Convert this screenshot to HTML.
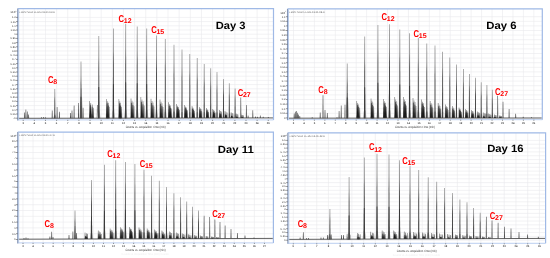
<!DOCTYPE html>
<html><head><meta charset="utf-8"><title>Chromatograms</title>
<style>html,body{margin:0;padding:0;background:#fff;width:550px;height:258px;overflow:hidden;font-family:"Liberation Sans",sans-serif}svg{display:block;will-change:transform;text-rendering:geometricPrecision}</style>
</head><body>
<svg width="550" height="258" viewBox="0 0 550 258" font-family='"Liberation Sans", sans-serif'><defs><linearGradient id="pg" x1="0" y1="0" x2="0" y2="1"><stop offset="0" stop-color="#9c9c9c"/><stop offset="0.25" stop-color="#888"/><stop offset="0.4" stop-color="#555"/><stop offset="1" stop-color="#3c3c3c"/></linearGradient></defs><rect width="550" height="258" fill="#fff"/><path d="M23.2 8.6V119.9M34.34 8.6V119.9M45.48 8.6V119.9M56.62 8.6V119.9M67.76 8.6V119.9M78.9 8.6V119.9M90.04 8.6V119.9M101.18 8.6V119.9M112.32 8.6V119.9M123.46 8.6V119.9M134.6 8.6V119.9M145.74 8.6V119.9M156.88 8.6V119.9M168.02 8.6V119.9M179.16 8.6V119.9M190.3 8.6V119.9M201.44 8.6V119.9M212.58 8.6V119.9M223.72 8.6V119.9M234.86 8.6V119.9M246 8.6V119.9M257.14 8.6V119.9M268.28 8.6V119.9M17.8 17.4H273.5M17.8 21.6H273.5M17.8 25.8H273.5M17.8 30H273.5M17.8 34.2H273.5M17.8 38.4H273.5M17.8 42.6H273.5M17.8 46.8H273.5M17.8 51H273.5M17.8 55.2H273.5M17.8 59.4H273.5M17.8 63.6H273.5M17.8 67.8H273.5M17.8 72H273.5M17.8 76.2H273.5M17.8 80.4H273.5M17.8 84.6H273.5M17.8 88.8H273.5M17.8 93H273.5M17.8 97.2H273.5M17.8 101.4H273.5M17.8 105.6H273.5M17.8 109.8H273.5M17.8 114H273.5M17.8 118.2H273.5" stroke="#e9eaec" stroke-width="0.6" fill="none"/><polygon points="88.99,118.18 89.26,101 89.71,101 89.99,118.18" fill="#4e4e4e"/><polygon points="90.33,118.18 90.6,103.06 91.05,103.06 91.33,118.18" fill="#4e4e4e"/><polygon points="91.67,118.18 91.95,104.44 92.4,104.44 92.67,118.18" fill="#4e4e4e"/><polygon points="93.01,118.18 93.29,107.87 93.74,107.87 94.01,118.18" fill="#4e4e4e"/><polygon points="89.74,118.18 90.24,104.78 90.74,104.78 91.24,118.18" fill="#111" fill-opacity="0.95"/><polygon points="91.4,118.18 91.85,106.84 92.35,106.84 92.8,118.18" fill="#111" fill-opacity="0.92"/><polygon points="88.89,118.18 90.69,113.03 94.11,118.18" fill="#222" fill-opacity="0.35"/><polygon points="105.92,118.16 106.2,99 106.64,99 106.92,118.16" fill="#4e4e4e"/><polygon points="106.84,118.16 107.12,101.3 107.56,101.3 107.84,118.16" fill="#4e4e4e"/><polygon points="107.76,118.16 108.04,102.83 108.48,102.83 108.76,118.16" fill="#4e4e4e"/><polygon points="108.68,118.16 108.96,106.66 109.41,106.66 109.68,118.16" fill="#4e4e4e"/><polygon points="106.36,118.16 106.86,103.22 107.36,103.22 107.86,118.16" fill="#111" fill-opacity="0.95"/><polygon points="107.51,118.16 107.96,105.51 108.46,105.51 108.91,118.16" fill="#111" fill-opacity="0.92"/><polygon points="105.82,118.16 107.25,112.41 109.78,118.16" fill="#222" fill-opacity="0.35"/><polygon points="118.42,118.14 118.7,99 119.14,99 119.42,118.14" fill="#4e4e4e"/><polygon points="119.34,118.14 119.62,101.3 120.06,101.3 120.34,118.14" fill="#4e4e4e"/><polygon points="120.26,118.14 120.54,102.83 120.98,102.83 121.26,118.14" fill="#4e4e4e"/><polygon points="121.18,118.14 121.46,106.66 121.91,106.66 122.18,118.14" fill="#4e4e4e"/><polygon points="118.86,118.14 119.36,103.21 119.86,103.21 120.36,118.14" fill="#111" fill-opacity="0.95"/><polygon points="120.01,118.14 120.46,105.51 120.96,105.51 121.41,118.14" fill="#111" fill-opacity="0.92"/><polygon points="118.32,118.14 119.75,112.4 122.28,118.14" fill="#222" fill-opacity="0.35"/><polygon points="130.5,118.12 130.78,98.4 131.23,98.4 131.5,118.12" fill="#4e4e4e"/><polygon points="131.5,118.12 131.78,100.77 132.23,100.77 132.5,118.12" fill="#4e4e4e"/><polygon points="132.5,118.12 132.77,102.34 133.22,102.34 133.5,118.12" fill="#4e4e4e"/><polygon points="133.5,118.12 133.77,106.29 134.22,106.29 134.5,118.12" fill="#4e4e4e"/><polygon points="131,118.12 131.5,102.74 132,102.74 132.5,118.12" fill="#111" fill-opacity="0.95"/><polygon points="132.25,118.12 132.7,105.1 133.2,105.1 133.65,118.12" fill="#111" fill-opacity="0.92"/><polygon points="130.41,118.12 131.9,112.2 134.59,118.12" fill="#222" fill-opacity="0.35"/><polygon points="140.39,118.1 140.66,97 141.11,97 141.39,118.1" fill="#4e4e4e"/><polygon points="141.46,118.1 141.74,99.53 142.19,99.53 142.46,118.1" fill="#4e4e4e"/><polygon points="142.54,118.1 142.81,101.22 143.26,101.22 143.54,118.1" fill="#4e4e4e"/><polygon points="143.61,118.1 143.88,105.44 144.33,105.44 144.61,118.1" fill="#4e4e4e"/><polygon points="140.94,118.1 141.44,101.64 141.94,101.64 142.44,118.1" fill="#111" fill-opacity="0.95"/><polygon points="142.28,118.1 142.73,104.18 143.23,104.18 143.68,118.1" fill="#111" fill-opacity="0.92"/><polygon points="140.29,118.1 141.86,111.77 144.71,118.1" fill="#222" fill-opacity="0.35"/><polygon points="150.5,118.09 150.78,98.7 151.23,98.7 151.5,118.09" fill="#4e4e4e"/><polygon points="151.5,118.09 151.78,101.03 152.23,101.03 152.5,118.09" fill="#4e4e4e"/><polygon points="152.5,118.09 152.77,102.58 153.22,102.58 153.5,118.09" fill="#4e4e4e"/><polygon points="153.5,118.09 153.77,106.46 154.22,106.46 154.5,118.09" fill="#4e4e4e"/><polygon points="151,118.09 151.5,102.97 152,102.97 152.5,118.09" fill="#111" fill-opacity="0.95"/><polygon points="152.25,118.09 152.7,105.29 153.2,105.29 153.65,118.09" fill="#111" fill-opacity="0.92"/><polygon points="150.41,118.09 151.9,112.27 154.59,118.09" fill="#222" fill-opacity="0.35"/><polygon points="159.5,118.08 159.78,99.6 160.23,99.6 160.5,118.08" fill="#4e4e4e"/><polygon points="160.5,118.08 160.78,101.82 161.23,101.82 161.5,118.08" fill="#4e4e4e"/><polygon points="161.5,118.08 161.77,103.3 162.22,103.3 162.5,118.08" fill="#4e4e4e"/><polygon points="162.5,118.08 162.77,106.99 163.22,106.99 163.5,118.08" fill="#4e4e4e"/><polygon points="160,118.08 160.5,103.66 161,103.66 161.5,118.08" fill="#111" fill-opacity="0.95"/><polygon points="161.25,118.08 161.7,105.88 162.2,105.88 162.65,118.08" fill="#111" fill-opacity="0.92"/><polygon points="159.41,118.08 160.9,112.53 163.59,118.08" fill="#222" fill-opacity="0.35"/><polygon points="168,118.06 168.28,102.3 168.73,102.3 169,118.06" fill="#4e4e4e"/><polygon points="169,118.06 169.28,104.19 169.73,104.19 170,118.06" fill="#4e4e4e"/><polygon points="170,118.06 170.27,105.45 170.72,105.45 171,118.06" fill="#4e4e4e"/><polygon points="171,118.06 171.27,108.6 171.72,108.6 172,118.06" fill="#4e4e4e"/><polygon points="168.5,118.06 169,105.77 169.5,105.77 170,118.06" fill="#111" fill-opacity="0.95"/><polygon points="169.75,118.06 170.2,107.66 170.7,107.66 171.15,118.06" fill="#111" fill-opacity="0.92"/><polygon points="167.91,118.06 169.4,113.33 172.09,118.06" fill="#222" fill-opacity="0.35"/><polygon points="176.12,118.05 176.4,104.1 176.84,104.1 177.12,118.05" fill="#4e4e4e"/><polygon points="177.04,118.05 177.31,105.77 177.76,105.77 178.04,118.05" fill="#4e4e4e"/><polygon points="177.96,118.05 178.24,106.89 178.69,106.89 178.96,118.05" fill="#4e4e4e"/><polygon points="178.88,118.05 179.16,109.68 179.6,109.68 179.88,118.05" fill="#4e4e4e"/><polygon points="176.56,118.05 177.06,107.17 177.56,107.17 178.06,118.05" fill="#111" fill-opacity="0.95"/><polygon points="177.71,118.05 178.16,108.84 178.66,108.84 179.11,118.05" fill="#111" fill-opacity="0.92"/><polygon points="176.02,118.05 177.45,113.86 179.98,118.05" fill="#222" fill-opacity="0.35"/><polygon points="184.12,118.04 184.4,105 184.84,105 185.12,118.04" fill="#4e4e4e"/><polygon points="185.04,118.04 185.31,106.56 185.76,106.56 186.04,118.04" fill="#4e4e4e"/><polygon points="185.96,118.04 186.24,107.61 186.69,107.61 186.96,118.04" fill="#4e4e4e"/><polygon points="186.88,118.04 187.16,110.21 187.6,110.21 187.88,118.04" fill="#4e4e4e"/><polygon points="184.56,118.04 185.06,107.87 185.56,107.87 186.06,118.04" fill="#111" fill-opacity="0.95"/><polygon points="185.71,118.04 186.16,109.43 186.66,109.43 187.11,118.04" fill="#111" fill-opacity="0.92"/><polygon points="184.02,118.04 185.45,114.13 187.98,118.04" fill="#222" fill-opacity="0.35"/><polygon points="191.54,118.03 191.81,106 192.26,106 192.54,118.03" fill="#4e4e4e"/><polygon points="192.38,118.03 192.65,107.44 193.1,107.44 193.38,118.03" fill="#4e4e4e"/><polygon points="193.22,118.03 193.5,108.41 193.95,108.41 194.22,118.03" fill="#4e4e4e"/><polygon points="194.07,118.03 194.34,110.81 194.79,110.81 195.07,118.03" fill="#4e4e4e"/><polygon points="191.92,118.03 192.42,108.65 192.92,108.65 193.42,118.03" fill="#111" fill-opacity="0.95"/><polygon points="192.98,118.03 193.43,110.09 193.93,110.09 194.38,118.03" fill="#111" fill-opacity="0.92"/><polygon points="191.44,118.03 192.79,114.42 195.17,118.03" fill="#222" fill-opacity="0.35"/><polygon points="198.84,118.01 199.11,106.9 199.56,106.9 199.84,118.01" fill="#4e4e4e"/><polygon points="199.68,118.01 199.95,108.23 200.4,108.23 200.68,118.01" fill="#4e4e4e"/><polygon points="200.52,118.01 200.8,109.12 201.25,109.12 201.52,118.01" fill="#4e4e4e"/><polygon points="201.37,118.01 201.64,111.35 202.09,111.35 202.37,118.01" fill="#4e4e4e"/><polygon points="199.22,118.01 199.72,109.35 200.22,109.35 200.72,118.01" fill="#111" fill-opacity="0.95"/><polygon points="200.28,118.01 200.73,110.68 201.23,110.68 201.68,118.01" fill="#111" fill-opacity="0.92"/><polygon points="198.74,118.01 200.09,114.68 202.47,118.01" fill="#222" fill-opacity="0.35"/><polygon points="205.85,118 206.12,108 206.57,108 206.85,118" fill="#4e4e4e"/><polygon points="206.62,118 206.89,109.2 207.34,109.2 207.62,118" fill="#4e4e4e"/><polygon points="207.38,118 207.66,110 208.11,110 208.38,118" fill="#4e4e4e"/><polygon points="208.15,118 208.43,112 208.88,112 209.15,118" fill="#4e4e4e"/><polygon points="206.17,118 206.67,110.2 207.17,110.2 207.67,118" fill="#111" fill-opacity="0.95"/><polygon points="207.15,118 207.59,111.4 208.09,111.4 208.54,118" fill="#111" fill-opacity="0.92"/><polygon points="205.75,118 207.04,115 209.25,118" fill="#222" fill-opacity="0.35"/><polygon points="212.35,117.99 212.62,109 213.07,109 213.35,117.99" fill="#4e4e4e"/><polygon points="213.12,117.99 213.39,110.08 213.84,110.08 214.12,117.99" fill="#4e4e4e"/><polygon points="213.88,117.99 214.16,110.8 214.61,110.8 214.88,117.99" fill="#4e4e4e"/><polygon points="214.65,117.99 214.93,112.6 215.38,112.6 215.65,117.99" fill="#4e4e4e"/><polygon points="212.67,117.99 213.17,111.86 213.67,111.86 214.17,117.99" fill="#111" fill-opacity="0.95"/><polygon points="213.65,117.99 214.09,112.8 214.59,112.8 215.04,117.99" fill="#111" fill-opacity="0.92"/><polygon points="212.25,117.99 213.54,115.3 215.75,117.99" fill="#222" fill-opacity="0.35"/><polygon points="218.85,117.98 219.12,110 219.57,110 219.85,117.98" fill="#4e4e4e"/><polygon points="220,117.98 220.28,110.96 220.72,110.96 221,117.98" fill="#4e4e4e"/><polygon points="221.15,117.98 221.43,111.6 221.88,111.6 222.15,117.98" fill="#4e4e4e"/><polygon points="219.17,117.98 219.67,113.33 220.17,113.33 220.67,117.98" fill="#111" fill-opacity="0.95"/><polygon points="220.15,117.98 220.59,114.04 221.09,114.04 221.54,117.98" fill="#111" fill-opacity="0.92"/><polygon points="218.75,117.98 220.04,115.59 222.25,117.98" fill="#222" fill-opacity="0.35"/><polygon points="224.47,117.97 224.74,111 225.19,111 225.47,117.97" fill="#4e4e4e"/><polygon points="225.5,117.97 225.78,111.84 226.22,111.84 226.5,117.97" fill="#4e4e4e"/><polygon points="226.53,117.97 226.81,112.39 227.26,112.39 227.53,117.97" fill="#4e4e4e"/><polygon points="224.73,117.97 225.23,114.59 225.73,114.59 226.23,117.97" fill="#111" fill-opacity="0.95"/><polygon points="225.61,117.97 226.06,115.11 226.56,115.11 227.01,117.97" fill="#111" fill-opacity="0.92"/><polygon points="224.37,117.97 225.59,115.88 227.63,117.97" fill="#222" fill-opacity="0.35"/><polygon points="230.58,117.96 230.86,112.2 231.31,112.2 231.58,117.96" fill="#4e4e4e"/><polygon points="231.5,117.96 231.78,112.89 232.22,112.89 232.5,117.96" fill="#4e4e4e"/><polygon points="232.42,117.96 232.7,113.35 233.15,113.35 233.42,117.96" fill="#4e4e4e"/><polygon points="230.79,117.96 231.29,115.85 231.79,115.85 232.29,117.96" fill="#111" fill-opacity="0.95"/><polygon points="231.58,117.96 232.03,116.17 232.53,116.17 232.98,117.96" fill="#111" fill-opacity="0.92"/><polygon points="230.48,117.96 231.63,116.24 233.52,117.96" fill="#222" fill-opacity="0.35"/><polygon points="235.58,117.96 235.86,113.5 236.31,113.5 236.58,117.96" fill="#4e4e4e"/><polygon points="236.5,117.96 236.78,114.03 237.22,114.03 237.5,117.96" fill="#4e4e4e"/><polygon points="237.42,117.96 237.7,114.39 238.15,114.39 238.42,117.96" fill="#4e4e4e"/><polygon points="235.79,117.96 236.29,116.74 236.79,116.74 237.29,117.96" fill="#111" fill-opacity="0.95"/><polygon points="236.58,117.96 237.03,116.93 237.53,116.93 237.98,117.96" fill="#111" fill-opacity="0.92"/><polygon points="235.48,117.96 236.63,116.62 238.52,117.96" fill="#222" fill-opacity="0.35"/><polygon points="240.88,117.95 241.16,114.7 241.61,114.7 241.88,117.95" fill="#4e4e4e"/><polygon points="241.8,117.95 242.08,115.09 242.53,115.09 242.8,117.95" fill="#4e4e4e"/><polygon points="242.72,117.95 243,115.35 243.45,115.35 243.72,117.95" fill="#4e4e4e"/><polygon points="241.09,117.95 241.59,117.06 242.09,117.06 242.59,117.95" fill="#111" fill-opacity="0.95"/><polygon points="241.88,117.95 242.33,117.2 242.83,117.2 243.28,117.95" fill="#111" fill-opacity="0.92"/><polygon points="240.78,117.95 241.93,116.97 243.82,117.95" fill="#222" fill-opacity="0.35"/><polygon points="24.05,118.29 24.3,112.5 24.9,112.5 25.15,118.29" fill="#555"/><polygon points="25.35,118.29 25.6,109.6 26.2,109.6 26.45,118.29" fill="#555"/><polygon points="26.75,118.29 27,111.5 27.6,111.5 27.85,118.29" fill="#555"/><polygon points="28.05,118.28 28.3,114.5 28.9,114.5 29.15,118.28" fill="#555"/><polygon points="51.65,118.25 51.9,110.5 52.5,110.5 52.75,118.25" fill="#555"/><polygon points="53,118.24 54.1,115.33 55.5,115.33 56.6,118.24" fill="#c4c4c4"/><polygon points="54.22,118.24 54.4,89.1 55.2,89.1 55.38,118.24" fill="url(#pg)"/><polygon points="54.05,118.24 54.35,114.75 55.25,114.75 55.55,118.24" fill="#3a3a3a" fill-opacity="0.5"/><polygon points="56.55,118.24 56.8,107 57.4,107 57.65,118.24" fill="#555"/><polygon points="58.85,118.23 59.1,111.7 59.7,111.7 59.95,118.23" fill="#555"/><polygon points="69.95,118.22 70.2,113 70.8,113 71.05,118.22" fill="#555"/><polygon points="71.45,118.22 71.7,110.5 72.3,110.5 72.55,118.22" fill="#555"/><polygon points="73.55,118.21 73.8,105.4 74.4,105.4 74.65,118.21" fill="#555"/><polygon points="77.95,118.21 78.2,103 78.8,103 79.05,118.21" fill="#555"/><polygon points="79.4,118.2 80.8,88.3 81.6,88.3 83,118.2" fill="#b8b8b8"/><polygon points="40.95,118.26 41.2,117.2 41.8,117.2 42.05,118.26" fill="#555"/><polygon points="43.05,118.26 43.3,117 43.9,117 44.15,118.26" fill="#555"/><polygon points="45.05,118.26 45.3,117.3 45.9,117.3 46.15,118.26" fill="#555"/><polygon points="79.2,118.2 80.3,112.53 81.7,112.53 82.8,118.2" fill="#c4c4c4"/><polygon points="80.42,118.2 80.6,61.5 81.4,61.5 81.58,118.2" fill="url(#pg)"/><polygon points="80.2,118.2 80.55,96.65 81.45,96.65 81.8,118.2" fill="#333" fill-opacity="0.75"/><polygon points="82.55,118.2 82.8,107.7 83.4,107.7 83.65,118.2" fill="#555"/><polygon points="96.75,118.18 97,105 97.6,105 97.85,118.18" fill="#555"/><polygon points="97,118.17 98.1,110.17 99.5,110.17 100.6,118.17" fill="#c4c4c4"/><polygon points="98.22,118.17 98.4,35.9 99.2,35.9 99.38,118.17" fill="url(#pg)"/><polygon points="98,118.17 98.35,86.91 99.25,86.91 99.6,118.17" fill="#333" fill-opacity="0.75"/><polygon points="111.6,118.15 112.7,110.15 114.1,110.15 115.2,118.15" fill="#c4c4c4"/><polygon points="112.83,118.15 113,28.5 113.8,28.5 113.98,118.15" fill="url(#pg)"/><polygon points="112.6,118.15 112.95,84.08 113.85,84.08 114.2,118.15" fill="#333" fill-opacity="0.75"/><polygon points="123.9,118.13 125,110.13 126.4,110.13 127.5,118.13" fill="#c4c4c4"/><polygon points="125.12,118.13 125.3,23.8 126.1,23.8 126.28,118.13" fill="url(#pg)"/><polygon points="124.9,118.13 125.25,82.29 126.15,82.29 126.5,118.13" fill="#333" fill-opacity="0.75"/><polygon points="135.4,118.11 136.5,110.11 137.9,110.11 139,118.11" fill="#c4c4c4"/><polygon points="136.62,118.11 136.8,26.6 137.6,26.6 137.77,118.11" fill="url(#pg)"/><polygon points="136.4,118.11 136.75,83.34 137.65,83.34 138,118.11" fill="#333" fill-opacity="0.75"/><polygon points="144.9,118.1 146,110.1 147.4,110.1 148.5,118.1" fill="#c4c4c4"/><polygon points="146.12,118.1 146.3,28.5 147.1,28.5 147.27,118.1" fill="url(#pg)"/><polygon points="145.9,118.1 146.25,84.05 147.15,84.05 147.5,118.1" fill="#333" fill-opacity="0.75"/><polygon points="154.7,118.08 155.8,110.08 157.2,110.08 158.3,118.08" fill="#c4c4c4"/><polygon points="155.93,118.08 156.1,35.5 156.9,35.5 157.07,118.08" fill="url(#pg)"/><polygon points="155.75,118.08 156.05,112.08 156.95,112.08 157.25,118.08" fill="#3a3a3a" fill-opacity="0.5"/><polygon points="163.5,118.07 164.6,110.16 166,110.16 167.1,118.07" fill="#c4c4c4"/><polygon points="164.73,118.07 164.9,39 165.7,39 165.88,118.07" fill="url(#pg)"/><polygon points="164.55,118.07 164.85,112.07 165.75,112.07 166.05,118.07" fill="#3a3a3a" fill-opacity="0.5"/><polygon points="172.2,118.06 173.3,110.73 174.7,110.73 175.8,118.06" fill="#c4c4c4"/><polygon points="173.43,118.06 173.6,44.8 174.4,44.8 174.57,118.06" fill="url(#pg)"/><polygon points="173.25,118.06 173.55,112.06 174.45,112.06 174.75,118.06" fill="#3a3a3a" fill-opacity="0.5"/><polygon points="181.43,118.04 181.6,49.4 182.4,49.4 182.57,118.04" fill="url(#pg)"/><polygon points="181.25,118.04 181.55,112.04 182.45,112.04 182.75,118.04" fill="#3a3a3a" fill-opacity="0.5"/><polygon points="189.23,118.03 189.4,54 190.2,54 190.38,118.03" fill="url(#pg)"/><polygon points="189.05,118.03 189.35,112.03 190.25,112.03 190.55,118.03" fill="#3a3a3a" fill-opacity="0.5"/><polygon points="196.62,118.02 196.8,58 197.6,58 197.77,118.02" fill="url(#pg)"/><polygon points="196.45,118.02 196.75,112.02 197.65,112.02 197.95,118.02" fill="#3a3a3a" fill-opacity="0.5"/><polygon points="203.62,118.01 203.8,63.9 204.6,63.9 204.77,118.01" fill="url(#pg)"/><polygon points="203.45,118.01 203.75,112.01 204.65,112.01 204.95,118.01" fill="#3a3a3a" fill-opacity="0.5"/><polygon points="210.12,118 210.3,68.2 211.1,68.2 211.27,118" fill="url(#pg)"/><polygon points="209.95,118 210.25,112.02 211.15,112.02 211.45,118" fill="#3a3a3a" fill-opacity="0.5"/><polygon points="216.43,117.99 216.6,72.1 217.4,72.1 217.57,117.99" fill="url(#pg)"/><polygon points="216.25,117.99 216.55,112.48 217.45,112.48 217.75,117.99" fill="#3a3a3a" fill-opacity="0.5"/><polygon points="222.93,117.98 223.1,79.1 223.9,79.1 224.07,117.98" fill="url(#pg)"/><polygon points="222.75,117.98 223.05,113.31 223.95,113.31 224.25,117.98" fill="#3a3a3a" fill-opacity="0.5"/><polygon points="228.73,117.97 228.9,83.3 229.7,83.3 229.88,117.97" fill="url(#pg)"/><polygon points="228.55,117.97 228.85,113.81 229.75,113.81 230.05,117.97" fill="#3a3a3a" fill-opacity="0.5"/><polygon points="234.53,117.96 234.7,88.4 235.5,88.4 235.67,117.96" fill="url(#pg)"/><polygon points="234.35,117.96 234.65,114.41 235.55,114.41 235.85,117.96" fill="#3a3a3a" fill-opacity="0.5"/><polygon points="240.25,117.95 240.5,97.6 241.1,97.6 241.35,117.95" fill="#555"/><polygon points="245.85,117.94 246.1,105.1 246.7,105.1 246.95,117.94" fill="#555"/><polygon points="252.25,117.93 252.5,110.3 253.1,110.3 253.35,117.93" fill="#555"/><polygon points="247.55,117.94 247.8,115.4 248.4,115.4 248.65,117.94" fill="#555"/><polygon points="254.95,117.93 255.2,116.5 255.8,116.5 256.05,117.93" fill="#555"/><polygon points="256.85,117.93 257.1,116.8 257.7,116.8 257.95,117.93" fill="#555"/><polygon points="259.75,117.92 260,115.4 260.6,115.4 260.85,117.92" fill="#555"/><polygon points="262.65,117.92 262.9,116.8 263.5,116.8 263.75,117.92" fill="#555"/><polygon points="267.75,117.91 268,116.9 268.6,116.9 268.85,117.91" fill="#555"/><path d="M18.3 118.3L273 117.9" stroke="#444" stroke-width="0.85"/><path d="M17.8 8.6H273.5V119.9" stroke="#9fb9e6" stroke-width="1.2" fill="none"/><path d="M17.8 119.9H273.5" stroke="#b3c8ee" stroke-width="0.9" fill="none"/><path d="M18.7 8.6V119.9" stroke="#bccfee" stroke-width="1.0" fill="none"/><path d="M17.7 8.6V120.4" stroke="#8797b6" stroke-width="1.1" fill="none"/><text x="15.7" y="18.3" font-size="2.7" text-anchor="end" fill="#333">1.2</text><text x="15.7" y="22.5" font-size="2.7" text-anchor="end" fill="#333">1.15</text><text x="15.7" y="26.7" font-size="2.7" text-anchor="end" fill="#333">1.1</text><text x="15.7" y="30.9" font-size="2.7" text-anchor="end" fill="#333">1.05</text><text x="15.7" y="35.1" font-size="2.7" text-anchor="end" fill="#333">1</text><text x="15.7" y="39.3" font-size="2.7" text-anchor="end" fill="#333">0.95</text><text x="15.7" y="43.5" font-size="2.7" text-anchor="end" fill="#333">0.9</text><text x="15.7" y="47.7" font-size="2.7" text-anchor="end" fill="#333">0.85</text><text x="15.7" y="51.9" font-size="2.7" text-anchor="end" fill="#333">0.8</text><text x="15.7" y="56.1" font-size="2.7" text-anchor="end" fill="#333">0.75</text><text x="15.7" y="60.3" font-size="2.7" text-anchor="end" fill="#333">0.7</text><text x="15.7" y="64.5" font-size="2.7" text-anchor="end" fill="#333">0.65</text><text x="15.7" y="68.7" font-size="2.7" text-anchor="end" fill="#333">0.6</text><text x="15.7" y="72.9" font-size="2.7" text-anchor="end" fill="#333">0.55</text><text x="15.7" y="77.1" font-size="2.7" text-anchor="end" fill="#333">0.5</text><text x="15.7" y="81.3" font-size="2.7" text-anchor="end" fill="#333">0.45</text><text x="15.7" y="85.5" font-size="2.7" text-anchor="end" fill="#333">0.4</text><text x="15.7" y="89.7" font-size="2.7" text-anchor="end" fill="#333">0.35</text><text x="15.7" y="93.9" font-size="2.7" text-anchor="end" fill="#333">0.3</text><text x="15.7" y="98.1" font-size="2.7" text-anchor="end" fill="#333">0.25</text><text x="15.7" y="102.3" font-size="2.7" text-anchor="end" fill="#333">0.2</text><text x="15.7" y="106.5" font-size="2.7" text-anchor="end" fill="#333">0.15</text><text x="15.7" y="110.7" font-size="2.7" text-anchor="end" fill="#333">0.1</text><text x="15.7" y="114.9" font-size="2.7" text-anchor="end" fill="#333">0.05</text><text x="15.7" y="119.1" font-size="2.7" text-anchor="end" fill="#333">-0</text><text x="23.2" y="123.9" font-size="2.7" font-weight="bold" text-anchor="middle" fill="#444">3</text><text x="34.34" y="123.9" font-size="2.7" font-weight="bold" text-anchor="middle" fill="#444">4</text><text x="45.48" y="123.9" font-size="2.7" font-weight="bold" text-anchor="middle" fill="#444">5</text><text x="56.62" y="123.9" font-size="2.7" font-weight="bold" text-anchor="middle" fill="#444">6</text><text x="67.76" y="123.9" font-size="2.7" font-weight="bold" text-anchor="middle" fill="#444">7</text><text x="78.9" y="123.9" font-size="2.7" font-weight="bold" text-anchor="middle" fill="#444">8</text><text x="90.04" y="123.9" font-size="2.7" font-weight="bold" text-anchor="middle" fill="#444">9</text><text x="101.18" y="123.9" font-size="2.7" font-weight="bold" text-anchor="middle" fill="#444">10</text><text x="112.32" y="123.9" font-size="2.7" font-weight="bold" text-anchor="middle" fill="#444">11</text><text x="123.46" y="123.9" font-size="2.7" font-weight="bold" text-anchor="middle" fill="#444">12</text><text x="134.6" y="123.9" font-size="2.7" font-weight="bold" text-anchor="middle" fill="#444">13</text><text x="145.74" y="123.9" font-size="2.7" font-weight="bold" text-anchor="middle" fill="#444">14</text><text x="156.88" y="123.9" font-size="2.7" font-weight="bold" text-anchor="middle" fill="#444">15</text><text x="168.02" y="123.9" font-size="2.7" font-weight="bold" text-anchor="middle" fill="#444">16</text><text x="179.16" y="123.9" font-size="2.7" font-weight="bold" text-anchor="middle" fill="#444">17</text><text x="190.3" y="123.9" font-size="2.7" font-weight="bold" text-anchor="middle" fill="#444">18</text><text x="201.44" y="123.9" font-size="2.7" font-weight="bold" text-anchor="middle" fill="#444">19</text><text x="212.58" y="123.9" font-size="2.7" font-weight="bold" text-anchor="middle" fill="#444">20</text><text x="223.72" y="123.9" font-size="2.7" font-weight="bold" text-anchor="middle" fill="#444">21</text><text x="234.86" y="123.9" font-size="2.7" font-weight="bold" text-anchor="middle" fill="#444">22</text><text x="246" y="123.9" font-size="2.7" font-weight="bold" text-anchor="middle" fill="#444">23</text><text x="257.14" y="123.9" font-size="2.7" font-weight="bold" text-anchor="middle" fill="#444">24</text><text x="268.28" y="123.9" font-size="2.7" font-weight="bold" text-anchor="middle" fill="#444">25</text><path d="M16 17.4H17.8M16 21.6H17.8M16 25.8H17.8M16 30H17.8M16 34.2H17.8M16 38.4H17.8M16 42.6H17.8M16 46.8H17.8M16 51H17.8M16 55.2H17.8M16 59.4H17.8M16 63.6H17.8M16 67.8H17.8M16 72H17.8M16 76.2H17.8M16 80.4H17.8M16 84.6H17.8M16 88.8H17.8M16 93H17.8M16 97.2H17.8M16 101.4H17.8M16 105.6H17.8M16 109.8H17.8M16 114H17.8M16 118.2H17.8M23.2 119.9V121M34.34 119.9V121M45.48 119.9V121M56.62 119.9V121M67.76 119.9V121M78.9 119.9V121M90.04 119.9V121M101.18 119.9V121M112.32 119.9V121M123.46 119.9V121M134.6 119.9V121M145.74 119.9V121M156.88 119.9V121M168.02 119.9V121M179.16 119.9V121M190.3 119.9V121M201.44 119.9V121M212.58 119.9V121M223.72 119.9V121M234.86 119.9V121M246 119.9V121M257.14 119.9V121M268.28 119.9V121" stroke="#555" stroke-width="0.6"/><text x="16.4" y="13.2" font-size="2.9" text-anchor="end" fill="#333">x10<tspan font-size="2.0" dy="-1.1">5</tspan></text><text x="19.1" y="12.9" font-size="2.7" fill="#666" textLength="36" lengthAdjust="spacingAndGlyphs">+ BPC Scan FL-RH-13-01-03-D</text><text x="125.65" y="128" font-size="3.1" fill="#333" textLength="40" lengthAdjust="spacingAndGlyphs">Counts vs. Acquisition Time (min)</text><text transform="translate(215.75 29.4) scale(1.052 1)" font-size="10.6" font-weight="bold" fill="#000">Day 3</text><text transform="translate(47.89 83.11) scale(0.77 1)" font-size="9.9" font-weight="bold" fill="#f00">C</text><text x="53.28" y="84.2" font-size="7" font-weight="bold" fill="#f00">8</text><text transform="translate(118.49 21.61) scale(0.77 1)" font-size="9.9" font-weight="bold" fill="#f00">C</text><text x="123.75" y="22.7" font-size="7" font-weight="bold" fill="#f00">12</text><text transform="translate(151.19 32.81) scale(0.77 1)" font-size="9.9" font-weight="bold" fill="#f00">C</text><text x="156.45" y="33.9" font-size="7" font-weight="bold" fill="#f00">15</text><text transform="translate(237.69 95.71) scale(0.77 1)" font-size="9.9" font-weight="bold" fill="#f00">C</text><text x="242.95" y="96.8" font-size="7" font-weight="bold" fill="#f00">27</text><path d="M293.5 8.9V119.7M303.95 8.9V119.7M314.4 8.9V119.7M324.85 8.9V119.7M335.3 8.9V119.7M345.75 8.9V119.7M356.2 8.9V119.7M366.65 8.9V119.7M377.1 8.9V119.7M387.55 8.9V119.7M398 8.9V119.7M408.45 8.9V119.7M418.9 8.9V119.7M429.35 8.9V119.7M439.8 8.9V119.7M450.25 8.9V119.7M460.7 8.9V119.7M471.15 8.9V119.7M481.6 8.9V119.7M492.05 8.9V119.7M502.5 8.9V119.7M512.95 8.9V119.7M523.4 8.9V119.7M533.85 8.9V119.7M287.6 16.7H542.3M287.6 21.3H542.3M287.6 25.9H542.3M287.6 30.5H542.3M287.6 35.1H542.3M287.6 39.7H542.3M287.6 44.3H542.3M287.6 48.9H542.3M287.6 53.5H542.3M287.6 58.1H542.3M287.6 62.7H542.3M287.6 67.3H542.3M287.6 71.9H542.3M287.6 76.5H542.3M287.6 81.1H542.3M287.6 85.7H542.3M287.6 90.3H542.3M287.6 94.9H542.3M287.6 99.5H542.3M287.6 104.1H542.3M287.6 108.7H542.3M287.6 113.3H542.3M287.6 117.9H542.3" stroke="#e9eaec" stroke-width="0.6" fill="none"/><polygon points="356.31,118.14 356.58,101 357.03,101 357.31,118.14" fill="#4e4e4e"/><polygon points="357.3,118.14 357.58,103.06 358.03,103.06 358.3,118.14" fill="#4e4e4e"/><polygon points="358.3,118.14 358.57,104.43 359.02,104.43 359.3,118.14" fill="#4e4e4e"/><polygon points="359.3,118.14 359.57,107.86 360.02,107.86 360.3,118.14" fill="#4e4e4e"/><polygon points="356.8,118.14 357.3,104.77 357.8,104.77 358.3,118.14" fill="#111" fill-opacity="0.95"/><polygon points="358.05,118.14 358.5,106.83 359,106.83 359.45,118.14" fill="#111" fill-opacity="0.92"/><polygon points="356.2,118.14 357.7,113 360.4,118.14" fill="#222" fill-opacity="0.35"/><polygon points="370.52,118.13 370.79,98.4 371.25,98.4 371.52,118.13" fill="#4e4e4e"/><polygon points="371.44,118.13 371.71,100.77 372.17,100.77 372.44,118.13" fill="#4e4e4e"/><polygon points="372.36,118.13 372.63,102.35 373.08,102.35 373.36,118.13" fill="#4e4e4e"/><polygon points="373.28,118.13 373.55,106.29 374,106.29 374.28,118.13" fill="#4e4e4e"/><polygon points="370.96,118.13 371.46,102.74 371.96,102.74 372.46,118.13" fill="#111" fill-opacity="0.95"/><polygon points="372.11,118.13 372.56,105.11 373.06,105.11 373.51,118.13" fill="#111" fill-opacity="0.92"/><polygon points="370.42,118.13 371.85,112.21 374.38,118.13" fill="#222" fill-opacity="0.35"/><polygon points="383,118.12 383.28,99 383.73,99 384,118.12" fill="#4e4e4e"/><polygon points="384,118.12 384.28,101.29 384.73,101.29 385,118.12" fill="#4e4e4e"/><polygon points="385,118.12 385.27,102.82 385.72,102.82 386,118.12" fill="#4e4e4e"/><polygon points="386,118.12 386.27,106.65 386.72,106.65 387,118.12" fill="#4e4e4e"/><polygon points="383.5,118.12 384,103.21 384.5,103.21 385,118.12" fill="#111" fill-opacity="0.95"/><polygon points="384.75,118.12 385.2,105.5 385.7,105.5 386.15,118.12" fill="#111" fill-opacity="0.92"/><polygon points="382.9,118.12 384.4,112.39 387.1,118.12" fill="#222" fill-opacity="0.35"/><polygon points="394.31,118.11 394.58,97 395.03,97 395.31,118.11" fill="#4e4e4e"/><polygon points="395.3,118.11 395.58,99.53 396.03,99.53 396.3,118.11" fill="#4e4e4e"/><polygon points="396.3,118.11 396.57,101.22 397.02,101.22 397.3,118.11" fill="#4e4e4e"/><polygon points="397.3,118.11 397.57,105.45 398.02,105.45 398.3,118.11" fill="#4e4e4e"/><polygon points="394.8,118.11 395.3,101.65 395.8,101.65 396.3,118.11" fill="#111" fill-opacity="0.95"/><polygon points="396.05,118.11 396.5,104.18 397,104.18 397.45,118.11" fill="#111" fill-opacity="0.92"/><polygon points="394.2,118.11 395.7,111.78 398.4,118.11" fill="#222" fill-opacity="0.35"/><polygon points="403,118.11 403.28,97 403.73,97 404,118.11" fill="#4e4e4e"/><polygon points="404,118.11 404.28,99.53 404.73,99.53 405,118.11" fill="#4e4e4e"/><polygon points="405,118.11 405.27,101.22 405.72,101.22 406,118.11" fill="#4e4e4e"/><polygon points="406,118.11 406.27,105.44 406.72,105.44 407,118.11" fill="#4e4e4e"/><polygon points="403.5,118.11 404,101.64 404.5,101.64 405,118.11" fill="#111" fill-opacity="0.95"/><polygon points="404.75,118.11 405.2,104.18 405.7,104.18 406.15,118.11" fill="#111" fill-opacity="0.92"/><polygon points="402.9,118.11 404.4,111.78 407.1,118.11" fill="#222" fill-opacity="0.35"/><polygon points="412.5,118.1 412.78,98 413.23,98 413.5,118.1" fill="#4e4e4e"/><polygon points="413.5,118.1 413.78,100.41 414.23,100.41 414.5,118.1" fill="#4e4e4e"/><polygon points="414.5,118.1 414.77,102.02 415.22,102.02 415.5,118.1" fill="#4e4e4e"/><polygon points="415.5,118.1 415.77,106.04 416.22,106.04 416.5,118.1" fill="#4e4e4e"/><polygon points="413,118.1 413.5,102.42 414,102.42 414.5,118.1" fill="#111" fill-opacity="0.95"/><polygon points="414.25,118.1 414.7,104.83 415.2,104.83 415.65,118.1" fill="#111" fill-opacity="0.92"/><polygon points="412.4,118.1 413.9,112.07 416.6,118.1" fill="#222" fill-opacity="0.35"/><polygon points="421,118.09 421.28,99.5 421.73,99.5 422,118.09" fill="#4e4e4e"/><polygon points="422,118.09 422.28,101.73 422.73,101.73 423,118.09" fill="#4e4e4e"/><polygon points="423,118.09 423.27,103.22 423.72,103.22 424,118.09" fill="#4e4e4e"/><polygon points="424,118.09 424.27,106.94 424.72,106.94 425,118.09" fill="#4e4e4e"/><polygon points="421.5,118.09 422,103.59 422.5,103.59 423,118.09" fill="#111" fill-opacity="0.95"/><polygon points="422.75,118.09 423.2,105.82 423.7,105.82 424.15,118.09" fill="#111" fill-opacity="0.92"/><polygon points="420.9,118.09 422.4,112.52 425.1,118.09" fill="#222" fill-opacity="0.35"/><polygon points="429.62,118.09 429.89,101 430.35,101 430.62,118.09" fill="#4e4e4e"/><polygon points="430.54,118.09 430.81,103.05 431.27,103.05 431.54,118.09" fill="#4e4e4e"/><polygon points="431.46,118.09 431.73,104.42 432.19,104.42 432.46,118.09" fill="#4e4e4e"/><polygon points="432.38,118.09 432.65,107.83 433.11,107.83 433.38,118.09" fill="#4e4e4e"/><polygon points="430.06,118.09 430.56,104.76 431.06,104.76 431.56,118.09" fill="#111" fill-opacity="0.95"/><polygon points="431.21,118.09 431.66,106.81 432.16,106.81 432.61,118.09" fill="#111" fill-opacity="0.92"/><polygon points="429.52,118.09 430.95,112.96 433.48,118.09" fill="#222" fill-opacity="0.35"/><polygon points="437.62,118.08 437.89,103 438.35,103 438.62,118.08" fill="#4e4e4e"/><polygon points="438.54,118.08 438.81,104.81 439.27,104.81 439.54,118.08" fill="#4e4e4e"/><polygon points="439.46,118.08 439.73,106.02 440.19,106.02 440.46,118.08" fill="#4e4e4e"/><polygon points="440.38,118.08 440.65,109.03 441.11,109.03 441.38,118.08" fill="#4e4e4e"/><polygon points="438.06,118.08 438.56,106.32 439.06,106.32 439.56,118.08" fill="#111" fill-opacity="0.95"/><polygon points="439.21,118.08 439.66,108.13 440.16,108.13 440.61,118.08" fill="#111" fill-opacity="0.92"/><polygon points="437.52,118.08 438.95,113.56 441.48,118.08" fill="#222" fill-opacity="0.35"/><polygon points="444.82,118.08 445.09,104.5 445.55,104.5 445.82,118.08" fill="#4e4e4e"/><polygon points="445.74,118.08 446.01,106.13 446.47,106.13 446.74,118.08" fill="#4e4e4e"/><polygon points="446.66,118.08 446.93,107.22 447.38,107.22 447.66,118.08" fill="#4e4e4e"/><polygon points="447.58,118.08 447.85,109.93 448.31,109.93 448.58,118.08" fill="#4e4e4e"/><polygon points="445.26,118.08 445.76,107.49 446.26,107.49 446.76,118.08" fill="#111" fill-opacity="0.95"/><polygon points="446.41,118.08 446.86,109.12 447.36,109.12 447.81,118.08" fill="#111" fill-opacity="0.92"/><polygon points="444.72,118.08 446.15,114 448.68,118.08" fill="#222" fill-opacity="0.35"/><polygon points="451.74,118.07 452.01,106 452.46,106 452.74,118.07" fill="#4e4e4e"/><polygon points="452.58,118.07 452.85,107.45 453.3,107.45 453.58,118.07" fill="#4e4e4e"/><polygon points="453.42,118.07 453.7,108.41 454.15,108.41 454.42,118.07" fill="#4e4e4e"/><polygon points="454.26,118.07 454.54,110.83 454.99,110.83 455.26,118.07" fill="#4e4e4e"/><polygon points="452.12,118.07 452.62,108.66 453.12,108.66 453.62,118.07" fill="#111" fill-opacity="0.95"/><polygon points="453.18,118.07 453.63,110.1 454.13,110.1 454.58,118.07" fill="#111" fill-opacity="0.92"/><polygon points="451.63,118.07 452.99,114.45 455.37,118.07" fill="#222" fill-opacity="0.35"/><polygon points="458.54,118.06 458.81,107.5 459.26,107.5 459.54,118.06" fill="#4e4e4e"/><polygon points="459.38,118.06 459.65,108.77 460.1,108.77 460.38,118.06" fill="#4e4e4e"/><polygon points="460.22,118.06 460.5,109.61 460.95,109.61 461.22,118.06" fill="#4e4e4e"/><polygon points="461.06,118.06 461.34,111.73 461.79,111.73 462.06,118.06" fill="#4e4e4e"/><polygon points="458.92,118.06 459.42,109.82 459.92,109.82 460.42,118.06" fill="#111" fill-opacity="0.95"/><polygon points="459.98,118.06 460.43,111.09 460.93,111.09 461.38,118.06" fill="#111" fill-opacity="0.92"/><polygon points="458.44,118.06 459.79,114.9 462.17,118.06" fill="#222" fill-opacity="0.35"/><polygon points="465.05,118.06 465.32,109 465.78,109 466.05,118.06" fill="#4e4e4e"/><polygon points="465.82,118.06 466.09,110.09 466.54,110.09 466.82,118.06" fill="#4e4e4e"/><polygon points="466.58,118.06 466.86,110.81 467.31,110.81 467.58,118.06" fill="#4e4e4e"/><polygon points="467.35,118.06 467.62,112.62 468.08,112.62 468.35,118.06" fill="#4e4e4e"/><polygon points="465.38,118.06 465.88,111.82 466.38,111.82 466.88,118.06" fill="#111" fill-opacity="0.95"/><polygon points="466.35,118.06 466.8,112.78 467.3,112.78 467.75,118.06" fill="#111" fill-opacity="0.92"/><polygon points="464.95,118.06 466.24,115.34 468.45,118.06" fill="#222" fill-opacity="0.35"/><polygon points="471.05,118.05 471.32,110 471.78,110 472.05,118.05" fill="#4e4e4e"/><polygon points="471.82,118.05 472.09,110.97 472.54,110.97 472.82,118.05" fill="#4e4e4e"/><polygon points="472.58,118.05 472.86,111.61 473.31,111.61 473.58,118.05" fill="#4e4e4e"/><polygon points="473.35,118.05 473.62,113.22 474.08,113.22 474.35,118.05" fill="#4e4e4e"/><polygon points="471.38,118.05 471.88,113.3 472.38,113.3 472.88,118.05" fill="#111" fill-opacity="0.95"/><polygon points="472.35,118.05 472.8,114.03 473.3,114.03 473.75,118.05" fill="#111" fill-opacity="0.92"/><polygon points="470.95,118.05 472.24,115.64 474.45,118.05" fill="#222" fill-opacity="0.35"/><polygon points="476.85,118.05 477.12,111.5 477.58,111.5 477.85,118.05" fill="#4e4e4e"/><polygon points="478,118.05 478.27,112.29 478.73,112.29 479,118.05" fill="#4e4e4e"/><polygon points="479.15,118.05 479.43,112.81 479.88,112.81 480.15,118.05" fill="#4e4e4e"/><polygon points="477.18,118.05 477.68,115.14 478.18,115.14 478.68,118.05" fill="#111" fill-opacity="0.95"/><polygon points="478.15,118.05 478.6,115.59 479.1,115.59 479.55,118.05" fill="#111" fill-opacity="0.92"/><polygon points="476.75,118.05 478.04,116.09 480.25,118.05" fill="#222" fill-opacity="0.35"/><polygon points="482.66,118.05 482.94,112.5 483.39,112.5 483.66,118.05" fill="#4e4e4e"/><polygon points="483.7,118.05 483.97,113.17 484.43,113.17 484.7,118.05" fill="#4e4e4e"/><polygon points="484.73,118.05 485.01,113.61 485.46,113.61 485.73,118.05" fill="#4e4e4e"/><polygon points="482.93,118.05 483.43,116.13 483.93,116.13 484.43,118.05" fill="#111" fill-opacity="0.95"/><polygon points="483.81,118.05 484.26,116.42 484.76,116.42 485.21,118.05" fill="#111" fill-opacity="0.92"/><polygon points="482.56,118.05 483.79,116.38 485.83,118.05" fill="#222" fill-opacity="0.35"/><polygon points="488.26,118.04 488.54,113.5 488.99,113.5 489.26,118.04" fill="#4e4e4e"/><polygon points="489.3,118.04 489.57,114.04 490.03,114.04 490.3,118.04" fill="#4e4e4e"/><polygon points="490.33,118.04 490.61,114.41 491.06,114.41 491.33,118.04" fill="#4e4e4e"/><polygon points="488.53,118.04 489.03,116.8 489.53,116.8 490.03,118.04" fill="#111" fill-opacity="0.95"/><polygon points="489.41,118.04 489.86,116.99 490.36,116.99 490.81,118.04" fill="#111" fill-opacity="0.92"/><polygon points="488.16,118.04 489.39,116.68 491.44,118.04" fill="#222" fill-opacity="0.35"/><polygon points="493.78,118.04 494.05,114.5 494.5,114.5 494.78,118.04" fill="#4e4e4e"/><polygon points="494.7,118.04 494.97,114.92 495.43,114.92 495.7,118.04" fill="#4e4e4e"/><polygon points="495.62,118.04 495.89,115.21 496.34,115.21 496.62,118.04" fill="#4e4e4e"/><polygon points="493.99,118.04 494.49,117.07 494.99,117.07 495.49,118.04" fill="#111" fill-opacity="0.95"/><polygon points="494.78,118.04 495.23,117.22 495.73,117.22 496.18,118.04" fill="#111" fill-opacity="0.92"/><polygon points="493.68,118.04 494.83,116.98 496.72,118.04" fill="#222" fill-opacity="0.35"/><polygon points="499.08,118.03 499.35,115.5 499.81,115.5 500.08,118.03" fill="#4e4e4e"/><polygon points="500,118.03 500.27,115.8 500.73,115.8 501,118.03" fill="#4e4e4e"/><polygon points="500.92,118.03 501.19,116.01 501.64,116.01 501.92,118.03" fill="#4e4e4e"/><polygon points="499.29,118.03 499.79,117.34 500.29,117.34 500.79,118.03" fill="#111" fill-opacity="0.95"/><polygon points="500.08,118.03 500.53,117.45 501.03,117.45 501.48,118.03" fill="#111" fill-opacity="0.92"/><polygon points="498.98,118.03 500.13,117.27 502.02,118.03" fill="#222" fill-opacity="0.35"/><polygon points="293.65,118.19 293.9,113.5 294.5,113.5 294.75,118.19" fill="#555"/><polygon points="294.75,118.19 295,111.8 295.6,111.8 295.85,118.19" fill="#555"/><polygon points="295.75,118.19 296,110.9 296.6,110.9 296.85,118.19" fill="#555"/><polygon points="296.85,118.19 297.1,112.8 297.7,112.8 297.95,118.19" fill="#555"/><polygon points="298.05,118.19 298.3,114.5 298.9,114.5 299.15,118.19" fill="#555"/><polygon points="299.25,118.19 299.5,116 300.1,116 300.35,118.19" fill="#555"/><polygon points="311.65,118.18 311.9,117.2 312.5,117.2 312.75,118.18" fill="#555"/><polygon points="336.45,118.16 336.7,117.2 337.3,117.2 337.55,118.16" fill="#555"/><polygon points="319.65,118.17 319.9,112.5 320.5,112.5 320.75,118.17" fill="#555"/><polygon points="322.45,118.17 322.7,95.3 323.3,95.3 323.55,118.17" fill="#555"/><polygon points="324.45,118.17 324.7,110 325.3,110 325.55,118.17" fill="#555"/><polygon points="326.75,118.17 327,113 327.6,113 327.85,118.17" fill="#555"/><polygon points="338.55,118.16 338.8,111 339.4,111 339.65,118.16" fill="#555"/><polygon points="340.65,118.16 340.9,105.6 341.5,105.6 341.75,118.16" fill="#555"/><polygon points="344.45,118.15 344.7,104.8 345.3,104.8 345.55,118.15" fill="#555"/><polygon points="345.6,118.15 347,93 347.8,93 349.2,118.15" fill="#b8b8b8"/><polygon points="345.4,118.15 346.5,112.69 347.9,112.69 349,118.15" fill="#c4c4c4"/><polygon points="346.62,118.15 346.8,63.5 347.6,63.5 347.77,118.15" fill="url(#pg)"/><polygon points="346.4,118.15 346.75,97.38 347.65,97.38 348,118.15" fill="#333" fill-opacity="0.75"/><polygon points="362.9,118.14 364,110.14 365.4,110.14 366.5,118.14" fill="#c4c4c4"/><polygon points="364.12,118.14 364.3,36.6 365.1,36.6 365.27,118.14" fill="url(#pg)"/><polygon points="363.9,118.14 364.25,87.15 365.15,87.15 365.5,118.14" fill="#333" fill-opacity="0.75"/><polygon points="376.1,118.13 377.2,110.13 378.6,110.13 379.7,118.13" fill="#c4c4c4"/><polygon points="377.32,118.13 377.5,25 378.3,25 378.47,118.13" fill="url(#pg)"/><polygon points="377.1,118.13 377.45,82.74 378.35,82.74 378.7,118.13" fill="#333" fill-opacity="0.75"/><polygon points="387.7,118.12 388.8,110.12 390.2,110.12 391.3,118.12" fill="#c4c4c4"/><polygon points="388.93,118.12 389.1,24.3 389.9,24.3 390.07,118.12" fill="url(#pg)"/><polygon points="388.7,118.12 389.05,82.47 389.95,82.47 390.3,118.12" fill="#333" fill-opacity="0.75"/><polygon points="398,118.11 399.1,110.11 400.5,110.11 401.6,118.11" fill="#c4c4c4"/><polygon points="399.23,118.11 399.4,29.4 400.2,29.4 400.38,118.11" fill="url(#pg)"/><polygon points="399,118.11 399.35,84.4 400.25,84.4 400.6,118.11" fill="#333" fill-opacity="0.75"/><polygon points="407.8,118.1 408.9,110.1 410.3,110.1 411.4,118.1" fill="#c4c4c4"/><polygon points="409.03,118.1 409.2,33.3 410,33.3 410.18,118.1" fill="url(#pg)"/><polygon points="408.8,118.1 409.15,85.88 410.05,85.88 410.4,118.1" fill="#333" fill-opacity="0.75"/><polygon points="416.5,118.1 417.6,110.1 419,110.1 420.1,118.1" fill="#c4c4c4"/><polygon points="417.73,118.1 417.9,37.9 418.7,37.9 418.88,118.1" fill="url(#pg)"/><polygon points="417.55,118.1 417.85,112.1 418.75,112.1 419.05,118.1" fill="#3a3a3a" fill-opacity="0.5"/><polygon points="425,118.09 426.1,110.63 427.5,110.63 428.6,118.09" fill="#c4c4c4"/><polygon points="426.23,118.09 426.4,43.5 427.2,43.5 427.38,118.09" fill="url(#pg)"/><polygon points="426.05,118.09 426.35,112.09 427.25,112.09 427.55,118.09" fill="#3a3a3a" fill-opacity="0.5"/><polygon points="433.2,118.08 434.3,110.84 435.7,110.84 436.8,118.08" fill="#c4c4c4"/><polygon points="434.43,118.08 434.6,45.6 435.4,45.6 435.57,118.08" fill="url(#pg)"/><polygon points="434.25,118.08 434.55,112.08 435.45,112.08 435.75,118.08" fill="#3a3a3a" fill-opacity="0.5"/><polygon points="442.03,118.08 442.2,51.7 443,51.7 443.18,118.08" fill="url(#pg)"/><polygon points="441.85,118.08 442.15,112.08 443.05,112.08 443.35,118.08" fill="#3a3a3a" fill-opacity="0.5"/><polygon points="449.23,118.07 449.4,57.6 450.2,57.6 450.38,118.07" fill="url(#pg)"/><polygon points="449.05,118.07 449.35,112.07 450.25,112.07 450.55,118.07" fill="#3a3a3a" fill-opacity="0.5"/><polygon points="455.93,118.07 456.1,64.4 456.9,64.4 457.07,118.07" fill="url(#pg)"/><polygon points="455.75,118.07 456.05,112.07 456.95,112.07 457.25,118.07" fill="#3a3a3a" fill-opacity="0.5"/><polygon points="462.82,118.06 463,69 463.8,69 463.97,118.06" fill="url(#pg)"/><polygon points="462.65,118.06 462.95,112.17 463.85,112.17 464.15,118.06" fill="#3a3a3a" fill-opacity="0.5"/><polygon points="468.82,118.06 469,74 469.8,74 469.97,118.06" fill="url(#pg)"/><polygon points="468.65,118.06 468.95,112.77 469.85,112.77 470.15,118.06" fill="#3a3a3a" fill-opacity="0.5"/><polygon points="474.93,118.05 475.1,77.8 475.9,77.8 476.07,118.05" fill="url(#pg)"/><polygon points="474.75,118.05 475.05,113.22 475.95,113.22 476.25,118.05" fill="#3a3a3a" fill-opacity="0.5"/><polygon points="480.62,118.05 480.8,82.2 481.6,82.2 481.77,118.05" fill="url(#pg)"/><polygon points="480.45,118.05 480.75,113.75 481.65,113.75 481.95,118.05" fill="#3a3a3a" fill-opacity="0.5"/><polygon points="486.32,118.04 486.5,85.1 487.3,85.1 487.47,118.04" fill="url(#pg)"/><polygon points="486.15,118.04 486.45,114.09 487.35,114.09 487.65,118.04" fill="#3a3a3a" fill-opacity="0.5"/><polygon points="491.73,118.04 491.9,89.7 492.7,89.7 492.88,118.04" fill="url(#pg)"/><polygon points="491.55,118.04 491.85,114.64 492.75,114.64 493.05,118.04" fill="#3a3a3a" fill-opacity="0.5"/><polygon points="497.15,118.04 497.4,95.7 498,95.7 498.25,118.04" fill="#555"/><polygon points="502.45,118.03 502.7,101.8 503.3,101.8 503.55,118.03" fill="#555"/><polygon points="508.55,118.03 508.8,109 509.4,109 509.65,118.03" fill="#555"/><polygon points="515.15,118.02 515.4,113.8 516,113.8 516.25,118.02" fill="#555"/><polygon points="522.65,118.01 522.9,116.8 523.5,116.8 523.75,118.01" fill="#555"/><polygon points="530.95,118.01 531.2,117.2 531.8,117.2 532.05,118.01" fill="#555"/><path d="M288.1 118.2L541.8 118" stroke="#444" stroke-width="0.85"/><path d="M287.6 8.9H542.3V119.7" stroke="#9fb9e6" stroke-width="1.2" fill="none"/><path d="M287.6 119.7H542.3" stroke="#b3c8ee" stroke-width="0.9" fill="none"/><path d="M288.5 8.9V119.7" stroke="#bccfee" stroke-width="1.0" fill="none"/><path d="M287.5 8.9V120.2" stroke="#8797b6" stroke-width="1.1" fill="none"/><text x="285.5" y="17.6" font-size="2.7" text-anchor="end" fill="#333">1.1</text><text x="285.5" y="22.2" font-size="2.7" text-anchor="end" fill="#333">1.05</text><text x="285.5" y="26.8" font-size="2.7" text-anchor="end" fill="#333">1</text><text x="285.5" y="31.4" font-size="2.7" text-anchor="end" fill="#333">0.95</text><text x="285.5" y="36" font-size="2.7" text-anchor="end" fill="#333">0.9</text><text x="285.5" y="40.6" font-size="2.7" text-anchor="end" fill="#333">0.85</text><text x="285.5" y="45.2" font-size="2.7" text-anchor="end" fill="#333">0.8</text><text x="285.5" y="49.8" font-size="2.7" text-anchor="end" fill="#333">0.75</text><text x="285.5" y="54.4" font-size="2.7" text-anchor="end" fill="#333">0.7</text><text x="285.5" y="59" font-size="2.7" text-anchor="end" fill="#333">0.65</text><text x="285.5" y="63.6" font-size="2.7" text-anchor="end" fill="#333">0.6</text><text x="285.5" y="68.2" font-size="2.7" text-anchor="end" fill="#333">0.55</text><text x="285.5" y="72.8" font-size="2.7" text-anchor="end" fill="#333">0.5</text><text x="285.5" y="77.4" font-size="2.7" text-anchor="end" fill="#333">0.45</text><text x="285.5" y="82" font-size="2.7" text-anchor="end" fill="#333">0.4</text><text x="285.5" y="86.6" font-size="2.7" text-anchor="end" fill="#333">0.35</text><text x="285.5" y="91.2" font-size="2.7" text-anchor="end" fill="#333">0.3</text><text x="285.5" y="95.8" font-size="2.7" text-anchor="end" fill="#333">0.25</text><text x="285.5" y="100.4" font-size="2.7" text-anchor="end" fill="#333">0.2</text><text x="285.5" y="105" font-size="2.7" text-anchor="end" fill="#333">0.15</text><text x="285.5" y="109.6" font-size="2.7" text-anchor="end" fill="#333">0.1</text><text x="285.5" y="114.2" font-size="2.7" text-anchor="end" fill="#333">0.05</text><text x="285.5" y="118.8" font-size="2.7" text-anchor="end" fill="#333">0</text><text x="293.5" y="123.7" font-size="2.7" font-weight="bold" text-anchor="middle" fill="#444">3</text><text x="303.95" y="123.7" font-size="2.7" font-weight="bold" text-anchor="middle" fill="#444">4</text><text x="314.4" y="123.7" font-size="2.7" font-weight="bold" text-anchor="middle" fill="#444">5</text><text x="324.85" y="123.7" font-size="2.7" font-weight="bold" text-anchor="middle" fill="#444">6</text><text x="335.3" y="123.7" font-size="2.7" font-weight="bold" text-anchor="middle" fill="#444">7</text><text x="345.75" y="123.7" font-size="2.7" font-weight="bold" text-anchor="middle" fill="#444">8</text><text x="356.2" y="123.7" font-size="2.7" font-weight="bold" text-anchor="middle" fill="#444">9</text><text x="366.65" y="123.7" font-size="2.7" font-weight="bold" text-anchor="middle" fill="#444">10</text><text x="377.1" y="123.7" font-size="2.7" font-weight="bold" text-anchor="middle" fill="#444">11</text><text x="387.55" y="123.7" font-size="2.7" font-weight="bold" text-anchor="middle" fill="#444">12</text><text x="398" y="123.7" font-size="2.7" font-weight="bold" text-anchor="middle" fill="#444">13</text><text x="408.45" y="123.7" font-size="2.7" font-weight="bold" text-anchor="middle" fill="#444">14</text><text x="418.9" y="123.7" font-size="2.7" font-weight="bold" text-anchor="middle" fill="#444">15</text><text x="429.35" y="123.7" font-size="2.7" font-weight="bold" text-anchor="middle" fill="#444">16</text><text x="439.8" y="123.7" font-size="2.7" font-weight="bold" text-anchor="middle" fill="#444">17</text><text x="450.25" y="123.7" font-size="2.7" font-weight="bold" text-anchor="middle" fill="#444">18</text><text x="460.7" y="123.7" font-size="2.7" font-weight="bold" text-anchor="middle" fill="#444">19</text><text x="471.15" y="123.7" font-size="2.7" font-weight="bold" text-anchor="middle" fill="#444">20</text><text x="481.6" y="123.7" font-size="2.7" font-weight="bold" text-anchor="middle" fill="#444">21</text><text x="492.05" y="123.7" font-size="2.7" font-weight="bold" text-anchor="middle" fill="#444">22</text><text x="502.5" y="123.7" font-size="2.7" font-weight="bold" text-anchor="middle" fill="#444">23</text><text x="512.95" y="123.7" font-size="2.7" font-weight="bold" text-anchor="middle" fill="#444">24</text><text x="523.4" y="123.7" font-size="2.7" font-weight="bold" text-anchor="middle" fill="#444">25</text><text x="533.85" y="123.7" font-size="2.7" font-weight="bold" text-anchor="middle" fill="#444">26</text><path d="M285.8 16.7H287.6M285.8 21.3H287.6M285.8 25.9H287.6M285.8 30.5H287.6M285.8 35.1H287.6M285.8 39.7H287.6M285.8 44.3H287.6M285.8 48.9H287.6M285.8 53.5H287.6M285.8 58.1H287.6M285.8 62.7H287.6M285.8 67.3H287.6M285.8 71.9H287.6M285.8 76.5H287.6M285.8 81.1H287.6M285.8 85.7H287.6M285.8 90.3H287.6M285.8 94.9H287.6M285.8 99.5H287.6M285.8 104.1H287.6M285.8 108.7H287.6M285.8 113.3H287.6M285.8 117.9H287.6M293.5 119.7V120.8M303.95 119.7V120.8M314.4 119.7V120.8M324.85 119.7V120.8M335.3 119.7V120.8M345.75 119.7V120.8M356.2 119.7V120.8M366.65 119.7V120.8M377.1 119.7V120.8M387.55 119.7V120.8M398 119.7V120.8M408.45 119.7V120.8M418.9 119.7V120.8M429.35 119.7V120.8M439.8 119.7V120.8M450.25 119.7V120.8M460.7 119.7V120.8M471.15 119.7V120.8M481.6 119.7V120.8M492.05 119.7V120.8M502.5 119.7V120.8M512.95 119.7V120.8M523.4 119.7V120.8M533.85 119.7V120.8" stroke="#555" stroke-width="0.6"/><text x="286.2" y="13.5" font-size="2.9" text-anchor="end" fill="#333">x10<tspan font-size="2.0" dy="-1.1">5</tspan></text><text x="288.9" y="13.2" font-size="2.7" fill="#666" textLength="36" lengthAdjust="spacingAndGlyphs">+ BPC Scan FL-RH-13-01-09-D</text><text x="394.95" y="128" font-size="3.1" fill="#333" textLength="40" lengthAdjust="spacingAndGlyphs">Counts vs. Acquisition Time (min)</text><text transform="translate(486.25 28.7) scale(1.07 1)" font-size="10.6" font-weight="bold" fill="#000">Day 6</text><text transform="translate(318.29 92.91) scale(0.77 1)" font-size="9.9" font-weight="bold" fill="#f00">C</text><text x="323.68" y="94" font-size="7" font-weight="bold" fill="#f00">8</text><text transform="translate(381.59 20.21) scale(0.77 1)" font-size="9.9" font-weight="bold" fill="#f00">C</text><text x="386.85" y="21.3" font-size="7" font-weight="bold" fill="#f00">12</text><text transform="translate(413.59 37.01) scale(0.77 1)" font-size="9.9" font-weight="bold" fill="#f00">C</text><text x="418.85" y="38.1" font-size="7" font-weight="bold" fill="#f00">15</text><text transform="translate(494.99 95.11) scale(0.77 1)" font-size="9.9" font-weight="bold" fill="#f00">C</text><text x="500.25" y="96.2" font-size="7" font-weight="bold" fill="#f00">27</text><path d="M23 132.1V242.9M33.06 132.1V242.9M43.12 132.1V242.9M53.18 132.1V242.9M63.24 132.1V242.9M73.3 132.1V242.9M83.36 132.1V242.9M93.42 132.1V242.9M103.48 132.1V242.9M113.54 132.1V242.9M123.6 132.1V242.9M133.66 132.1V242.9M143.72 132.1V242.9M153.78 132.1V242.9M163.84 132.1V242.9M173.9 132.1V242.9M183.96 132.1V242.9M194.02 132.1V242.9M204.08 132.1V242.9M214.14 132.1V242.9M224.2 132.1V242.9M234.26 132.1V242.9M244.32 132.1V242.9M254.38 132.1V242.9M264.44 132.1V242.9M17.8 140.9H273.4M17.8 146.7H273.4M17.8 152.5H273.4M17.8 158.3H273.4M17.8 164.1H273.4M17.8 169.9H273.4M17.8 175.7H273.4M17.8 181.5H273.4M17.8 187.3H273.4M17.8 193.1H273.4M17.8 198.9H273.4M17.8 204.7H273.4M17.8 210.5H273.4M17.8 216.3H273.4M17.8 222.1H273.4M17.8 227.9H273.4M17.8 233.7H273.4M17.8 239.5H273.4" stroke="#e9eaec" stroke-width="0.6" fill="none"/><polygon points="84.53,238.99 84.81,232.4 85.26,232.4 85.53,238.99" fill="#4e4e4e"/><polygon points="85.8,238.99 86.08,233.19 86.52,233.19 86.8,238.99" fill="#4e4e4e"/><polygon points="87.06,238.99 87.34,233.72 87.79,233.72 88.06,238.99" fill="#4e4e4e"/><polygon points="84.92,238.99 85.42,236.04 85.92,236.04 86.42,238.99" fill="#111" fill-opacity="0.95"/><polygon points="85.98,238.99 86.43,236.49 86.93,236.49 87.38,238.99" fill="#111" fill-opacity="0.92"/><polygon points="84.44,238.99 85.79,237.01 88.16,238.99" fill="#222" fill-opacity="0.35"/><polygon points="97.7,238.94 97.98,230.6 98.43,230.6 98.7,238.94" fill="#4e4e4e"/><polygon points="98.7,238.94 98.98,231.6 99.43,231.6 99.7,238.94" fill="#4e4e4e"/><polygon points="99.7,238.94 99.97,232.27 100.42,232.27 100.7,238.94" fill="#4e4e4e"/><polygon points="100.69,238.94 100.97,233.94 101.42,233.94 101.69,238.94" fill="#4e4e4e"/><polygon points="98.2,238.94 98.7,233.78 99.2,233.78 99.7,238.94" fill="#111" fill-opacity="0.95"/><polygon points="99.45,238.94 99.9,234.58 100.4,234.58 100.85,238.94" fill="#111" fill-opacity="0.92"/><polygon points="97.61,238.94 99.1,236.44 101.79,238.94" fill="#222" fill-opacity="0.35"/><polygon points="109.6,238.91 109.88,228.5 110.33,228.5 110.6,238.91" fill="#4e4e4e"/><polygon points="110.6,238.91 110.88,229.75 111.33,229.75 111.6,238.91" fill="#4e4e4e"/><polygon points="111.6,238.91 111.87,230.58 112.32,230.58 112.6,238.91" fill="#4e4e4e"/><polygon points="112.59,238.91 112.87,232.66 113.32,232.66 113.59,238.91" fill="#4e4e4e"/><polygon points="110.1,238.91 110.6,230.79 111.1,230.79 111.6,238.91" fill="#111" fill-opacity="0.95"/><polygon points="111.35,238.91 111.8,232.04 112.3,232.04 112.75,238.91" fill="#111" fill-opacity="0.92"/><polygon points="109.5,238.91 111,235.78 113.69,238.91" fill="#222" fill-opacity="0.35"/><polygon points="119.8,238.87 120.08,227.2 120.53,227.2 120.8,238.87" fill="#4e4e4e"/><polygon points="120.8,238.87 121.08,228.6 121.53,228.6 121.8,238.87" fill="#4e4e4e"/><polygon points="121.8,238.87 122.07,229.53 122.52,229.53 122.8,238.87" fill="#4e4e4e"/><polygon points="122.79,238.87 123.07,231.87 123.52,231.87 123.79,238.87" fill="#4e4e4e"/><polygon points="120.3,238.87 120.8,229.77 121.3,229.77 121.8,238.87" fill="#111" fill-opacity="0.95"/><polygon points="121.55,238.87 122,231.17 122.5,231.17 122.95,238.87" fill="#111" fill-opacity="0.92"/><polygon points="119.7,238.87 121.2,235.37 123.89,238.87" fill="#222" fill-opacity="0.35"/><polygon points="129.1,238.85 129.38,227 129.83,227 130.1,238.85" fill="#4e4e4e"/><polygon points="130.1,238.85 130.38,228.42 130.83,228.42 131.1,238.85" fill="#4e4e4e"/><polygon points="131.1,238.85 131.37,229.37 131.82,229.37 132.1,238.85" fill="#4e4e4e"/><polygon points="132.09,238.85 132.37,231.74 132.82,231.74 133.09,238.85" fill="#4e4e4e"/><polygon points="129.6,238.85 130.1,229.61 130.6,229.61 131.1,238.85" fill="#111" fill-opacity="0.95"/><polygon points="130.85,238.85 131.3,231.03 131.8,231.03 132.25,238.85" fill="#111" fill-opacity="0.92"/><polygon points="129,238.85 130.5,235.29 133.19,238.85" fill="#222" fill-opacity="0.35"/><polygon points="138.5,238.82 138.78,227.5 139.23,227.5 139.5,238.82" fill="#4e4e4e"/><polygon points="139.5,238.82 139.78,228.86 140.23,228.86 140.5,238.82" fill="#4e4e4e"/><polygon points="140.5,238.82 140.77,229.76 141.22,229.76 141.5,238.82" fill="#4e4e4e"/><polygon points="141.5,238.82 141.77,232.03 142.22,232.03 142.5,238.82" fill="#4e4e4e"/><polygon points="139,238.82 139.5,229.99 140,229.99 140.5,238.82" fill="#111" fill-opacity="0.95"/><polygon points="140.25,238.82 140.7,231.35 141.2,231.35 141.65,238.82" fill="#111" fill-opacity="0.92"/><polygon points="138.41,238.82 139.9,235.42 142.59,238.82" fill="#222" fill-opacity="0.35"/><polygon points="146.62,238.79 146.9,228.5 147.34,228.5 147.62,238.79" fill="#4e4e4e"/><polygon points="147.54,238.79 147.81,229.73 148.26,229.73 148.54,238.79" fill="#4e4e4e"/><polygon points="148.46,238.79 148.74,230.56 149.19,230.56 149.46,238.79" fill="#4e4e4e"/><polygon points="149.38,238.79 149.66,232.62 150.1,232.62 150.38,238.79" fill="#4e4e4e"/><polygon points="147.06,238.79 147.56,230.76 148.06,230.76 148.56,238.79" fill="#111" fill-opacity="0.95"/><polygon points="148.21,238.79 148.66,232 149.16,232 149.61,238.79" fill="#111" fill-opacity="0.92"/><polygon points="146.52,238.79 147.95,235.7 150.48,238.79" fill="#222" fill-opacity="0.35"/><polygon points="154.12,238.77 154.4,229.5 154.84,229.5 155.12,238.77" fill="#4e4e4e"/><polygon points="155.04,238.77 155.31,230.61 155.76,230.61 156.04,238.77" fill="#4e4e4e"/><polygon points="155.96,238.77 156.24,231.35 156.69,231.35 156.96,238.77" fill="#4e4e4e"/><polygon points="156.88,238.77 157.16,233.21 157.6,233.21 157.88,238.77" fill="#4e4e4e"/><polygon points="154.56,238.77 155.06,232.2 155.56,232.2 156.06,238.77" fill="#111" fill-opacity="0.95"/><polygon points="155.71,238.77 156.16,233.21 156.66,233.21 157.11,238.77" fill="#111" fill-opacity="0.92"/><polygon points="154.02,238.77 155.45,235.99 157.98,238.77" fill="#222" fill-opacity="0.35"/><polygon points="161.42,238.74 161.7,230.5 162.15,230.5 162.42,238.74" fill="#4e4e4e"/><polygon points="162.34,238.74 162.62,231.49 163.06,231.49 163.34,238.74" fill="#4e4e4e"/><polygon points="163.26,238.74 163.54,232.15 163.99,232.15 164.26,238.74" fill="#4e4e4e"/><polygon points="164.18,238.74 164.46,233.8 164.91,233.8 165.18,238.74" fill="#4e4e4e"/><polygon points="161.86,238.74 162.36,233.72 162.86,233.72 163.36,238.74" fill="#111" fill-opacity="0.95"/><polygon points="163.01,238.74 163.46,234.5 163.96,234.5 164.41,238.74" fill="#111" fill-opacity="0.92"/><polygon points="161.32,238.74 162.75,236.27 165.28,238.74" fill="#222" fill-opacity="0.35"/><polygon points="168.74,238.72 169.01,231.5 169.46,231.5 169.74,238.72" fill="#4e4e4e"/><polygon points="170,238.72 170.28,232.37 170.72,232.37 171,238.72" fill="#4e4e4e"/><polygon points="171.27,238.72 171.54,232.94 171.99,232.94 172.27,238.72" fill="#4e4e4e"/><polygon points="169.12,238.72 169.62,235.04 170.12,235.04 170.62,238.72" fill="#111" fill-opacity="0.95"/><polygon points="170.18,238.72 170.63,235.61 171.13,235.61 171.58,238.72" fill="#111" fill-opacity="0.92"/><polygon points="168.64,238.72 169.99,236.56 172.37,238.72" fill="#222" fill-opacity="0.35"/><polygon points="175.74,238.7 176.01,232.5 176.46,232.5 176.74,238.7" fill="#4e4e4e"/><polygon points="177,238.7 177.28,233.24 177.72,233.24 178,238.7" fill="#4e4e4e"/><polygon points="178.27,238.7 178.54,233.74 178.99,233.74 179.27,238.7" fill="#4e4e4e"/><polygon points="176.12,238.7 176.62,236.16 177.12,236.16 177.62,238.7" fill="#111" fill-opacity="0.95"/><polygon points="177.18,238.7 177.63,236.55 178.13,236.55 178.58,238.7" fill="#111" fill-opacity="0.92"/><polygon points="175.64,238.7 176.99,236.84 179.37,238.7" fill="#222" fill-opacity="0.35"/><polygon points="182.15,238.68 182.43,233.5 182.88,233.5 183.15,238.68" fill="#4e4e4e"/><polygon points="183.3,238.68 183.58,234.12 184.03,234.12 184.3,238.68" fill="#4e4e4e"/><polygon points="184.45,238.68 184.73,234.54 185.18,234.54 185.45,238.68" fill="#4e4e4e"/><polygon points="182.47,238.68 182.97,237.07 183.47,237.07 183.97,238.68" fill="#111" fill-opacity="0.95"/><polygon points="183.45,238.68 183.9,237.32 184.4,237.32 184.84,238.68" fill="#111" fill-opacity="0.92"/><polygon points="182.05,238.68 183.34,237.13 185.55,238.68" fill="#222" fill-opacity="0.35"/><polygon points="188.15,238.66 188.43,234.3 188.88,234.3 189.15,238.66" fill="#4e4e4e"/><polygon points="189.3,238.66 189.58,234.82 190.03,234.82 190.3,238.66" fill="#4e4e4e"/><polygon points="190.45,238.66 190.73,235.17 191.18,235.17 191.45,238.66" fill="#4e4e4e"/><polygon points="188.47,238.66 188.97,237.47 189.47,237.47 189.97,238.66" fill="#111" fill-opacity="0.95"/><polygon points="189.45,238.66 189.9,237.65 190.4,237.65 190.84,238.66" fill="#111" fill-opacity="0.92"/><polygon points="188.05,238.66 189.34,237.35 191.55,238.66" fill="#222" fill-opacity="0.35"/><polygon points="194.16,238.64 194.44,235 194.89,235 195.16,238.64" fill="#4e4e4e"/><polygon points="195.2,238.64 195.47,235.44 195.92,235.44 196.2,238.64" fill="#4e4e4e"/><polygon points="196.23,238.64 196.51,235.73 196.96,235.73 197.23,238.64" fill="#4e4e4e"/><polygon points="194.43,238.64 194.93,237.65 195.43,237.65 195.93,238.64" fill="#111" fill-opacity="0.95"/><polygon points="195.31,238.64 195.76,237.8 196.26,237.8 196.71,238.64" fill="#111" fill-opacity="0.92"/><polygon points="194.06,238.64 195.29,237.55 197.33,238.64" fill="#222" fill-opacity="0.35"/><polygon points="199.97,238.63 200.24,235.5 200.69,235.5 200.97,238.63" fill="#4e4e4e"/><polygon points="201,238.63 201.28,235.88 201.72,235.88 202,238.63" fill="#4e4e4e"/><polygon points="202.03,238.63 202.31,236.13 202.76,236.13 203.03,238.63" fill="#4e4e4e"/><polygon points="200.23,238.63 200.73,237.77 201.23,237.77 201.73,238.63" fill="#111" fill-opacity="0.95"/><polygon points="201.11,238.63 201.56,237.9 202.06,237.9 202.51,238.63" fill="#111" fill-opacity="0.92"/><polygon points="199.87,238.63 201.09,237.69 203.13,238.63" fill="#222" fill-opacity="0.35"/><polygon points="205.58,238.61 205.86,236 206.31,236 206.58,238.61" fill="#4e4e4e"/><polygon points="206.5,238.61 206.78,236.31 207.22,236.31 207.5,238.61" fill="#4e4e4e"/><polygon points="207.42,238.61 207.7,236.52 208.15,236.52 208.42,238.61" fill="#4e4e4e"/><polygon points="205.79,238.61 206.29,237.9 206.79,237.9 207.29,238.61" fill="#111" fill-opacity="0.95"/><polygon points="206.58,238.61 207.03,238.01 207.53,238.01 207.98,238.61" fill="#111" fill-opacity="0.92"/><polygon points="205.48,238.61 206.63,237.83 208.52,238.61" fill="#222" fill-opacity="0.35"/><polygon points="211.08,238.59 211.36,236.5 211.81,236.5 212.08,238.59" fill="#4e4e4e"/><polygon points="212,238.59 212.28,236.75 212.72,236.75 213,238.59" fill="#4e4e4e"/><polygon points="212.92,238.59 213.2,236.92 213.65,236.92 213.92,238.59" fill="#4e4e4e"/><polygon points="211.29,238.59 211.79,238.02 212.29,238.02 212.79,238.59" fill="#111" fill-opacity="0.95"/><polygon points="212.08,238.59 212.53,238.11 213.03,238.11 213.48,238.59" fill="#111" fill-opacity="0.92"/><polygon points="210.98,238.59 212.13,237.96 214.02,238.59" fill="#222" fill-opacity="0.35"/><polygon points="216.08,238.57 216.36,237 216.81,237 217.08,238.57" fill="#4e4e4e"/><polygon points="217,238.57 217.28,237.19 217.72,237.19 218,238.57" fill="#4e4e4e"/><polygon points="217.92,238.57 218.2,237.31 218.65,237.31 218.92,238.57" fill="#4e4e4e"/><polygon points="216.29,238.57 216.79,238.14 217.29,238.14 217.79,238.57" fill="#111" fill-opacity="0.95"/><polygon points="217.08,238.57 217.53,238.21 218.03,238.21 218.48,238.57" fill="#111" fill-opacity="0.92"/><polygon points="215.98,238.57 217.13,238.1 219.02,238.57" fill="#222" fill-opacity="0.35"/><polygon points="23.45,239.18 23.7,238 24.3,238 24.55,239.18" fill="#555"/><polygon points="25.45,239.17 25.7,237.6 26.3,237.6 26.55,239.17" fill="#555"/><polygon points="27.45,239.17 27.7,238.2 28.3,238.2 28.55,239.17" fill="#555"/><polygon points="49.35,239.1 49.6,236.5 50.2,236.5 50.45,239.1" fill="#555"/><polygon points="51.15,239.09 51.4,231.8 52,231.8 52.25,239.09" fill="#555"/><polygon points="52.45,239.09 52.7,237 53.3,237 53.55,239.09" fill="#555"/><polygon points="72.35,239.03 72.6,231.5 73.2,231.5 73.45,239.03" fill="#555"/><polygon points="73.3,239.02 74.6,226 75.4,226 76.7,239.02" fill="#b8b8b8"/><polygon points="73.2,239.02 74.3,236.18 75.7,236.18 76.8,239.02" fill="#c4c4c4"/><polygon points="74.42,239.02 74.6,210.6 75.4,210.6 75.58,239.02" fill="url(#pg)"/><polygon points="74.25,239.02 74.55,235.61 75.45,235.61 75.75,239.02" fill="#3a3a3a" fill-opacity="0.5"/><polygon points="76.05,239.02 76.3,232.9 76.9,232.9 77.15,239.02" fill="#555"/><polygon points="68.45,239.04 68.7,235 69.3,235 69.55,239.04" fill="#555"/><polygon points="89.7,238.97 90.8,233.07 92.2,233.07 93.3,238.97" fill="#c4c4c4"/><polygon points="90.92,238.97 91.1,180 91.9,180 92.08,238.97" fill="url(#pg)"/><polygon points="90.7,238.97 91.05,216.56 91.95,216.56 92.3,238.97" fill="#333" fill-opacity="0.75"/><polygon points="102.6,238.93 103.7,231.51 105.1,231.51 106.2,238.93" fill="#c4c4c4"/><polygon points="103.83,238.93 104,164.7 104.8,164.7 104.98,238.93" fill="url(#pg)"/><polygon points="103.6,238.93 103.95,210.72 104.85,210.72 105.2,238.93" fill="#333" fill-opacity="0.75"/><polygon points="113.9,238.89 115,231.03 116.4,231.03 117.5,238.89" fill="#c4c4c4"/><polygon points="115.12,238.89 115.3,160.3 116.1,160.3 116.28,238.89" fill="url(#pg)"/><polygon points="114.9,238.89 115.25,209.03 116.15,209.03 116.5,238.89" fill="#333" fill-opacity="0.75"/><polygon points="123.6,238.86 124.7,231.19 126.1,231.19 127.2,238.86" fill="#c4c4c4"/><polygon points="124.83,238.86 125,162.1 125.8,162.1 125.98,238.86" fill="url(#pg)"/><polygon points="124.6,238.86 124.95,209.69 125.85,209.69 126.2,238.86" fill="#333" fill-opacity="0.75"/><polygon points="133.1,238.83 134.2,231.34 135.6,231.34 136.7,238.83" fill="#c4c4c4"/><polygon points="134.33,238.83 134.5,163.9 135.3,163.9 135.47,238.83" fill="url(#pg)"/><polygon points="134.1,238.83 134.45,210.36 135.35,210.36 135.7,238.83" fill="#333" fill-opacity="0.75"/><polygon points="142.2,238.81 143.3,231.9 144.7,231.9 145.8,238.81" fill="#c4c4c4"/><polygon points="143.43,238.81 143.6,169.8 144.4,169.8 144.57,238.81" fill="url(#pg)"/><polygon points="143.25,238.81 143.55,232.81 144.45,232.81 144.75,238.81" fill="#3a3a3a" fill-opacity="0.5"/><polygon points="149.8,238.78 150.9,232.47 152.3,232.47 153.4,238.78" fill="#c4c4c4"/><polygon points="151.03,238.78 151.2,175.7 152,175.7 152.17,238.78" fill="url(#pg)"/><polygon points="150.85,238.78 151.15,232.78 152.05,232.78 152.35,238.78" fill="#3a3a3a" fill-opacity="0.5"/><polygon points="157.5,238.76 158.6,232.96 160,232.96 161.1,238.76" fill="#c4c4c4"/><polygon points="158.73,238.76 158.9,180.8 159.7,180.8 159.88,238.76" fill="url(#pg)"/><polygon points="158.55,238.76 158.85,232.76 159.75,232.76 160.05,238.76" fill="#3a3a3a" fill-opacity="0.5"/><polygon points="164.7,238.73 165.8,233.56 167.2,233.56 168.3,238.73" fill="#c4c4c4"/><polygon points="165.93,238.73 166.1,187 166.9,187 167.07,238.73" fill="url(#pg)"/><polygon points="165.75,238.73 166.05,232.73 166.95,232.73 167.25,238.73" fill="#3a3a3a" fill-opacity="0.5"/><polygon points="173.33,238.71 173.5,193.2 174.3,193.2 174.47,238.71" fill="url(#pg)"/><polygon points="173.15,238.71 173.45,233.25 174.35,233.25 174.65,238.71" fill="#3a3a3a" fill-opacity="0.5"/><polygon points="180.03,238.69 180.2,197.3 181,197.3 181.17,238.69" fill="url(#pg)"/><polygon points="179.85,238.69 180.15,233.72 181.05,233.72 181.35,238.69" fill="#3a3a3a" fill-opacity="0.5"/><polygon points="186.12,238.67 186.3,201.6 187.1,201.6 187.27,238.67" fill="url(#pg)"/><polygon points="185.95,238.67 186.25,234.22 187.15,234.22 187.45,238.67" fill="#3a3a3a" fill-opacity="0.5"/><polygon points="192.03,238.65 192.2,206.8 193,206.8 193.17,238.65" fill="url(#pg)"/><polygon points="191.85,238.65 192.15,234.83 193.05,234.83 193.35,238.65" fill="#3a3a3a" fill-opacity="0.5"/><polygon points="197.93,238.63 198.1,210.6 198.9,210.6 199.07,238.63" fill="url(#pg)"/><polygon points="197.75,238.63 198.05,235.27 198.95,235.27 199.25,238.63" fill="#3a3a3a" fill-opacity="0.5"/><polygon points="203.55,238.62 203.8,215.7 204.4,215.7 204.65,238.62" fill="#555"/><polygon points="209.15,238.6 209.4,217 210,217 210.25,238.6" fill="#555"/><polygon points="214.35,238.58 214.6,219.6 215.2,219.6 215.45,238.58" fill="#555"/><polygon points="219.45,238.57 219.7,222.1 220.3,222.1 220.55,238.57" fill="#555"/><polygon points="224.55,238.55 224.8,225.4 225.4,225.4 225.65,238.55" fill="#555"/><polygon points="230.45,238.53 230.7,229 231.3,229 231.55,238.53" fill="#555"/><polygon points="236.85,238.51 237.1,233.1 237.7,233.1 237.95,238.51" fill="#555"/><polygon points="244.45,238.49 244.7,235.4 245.3,235.4 245.55,238.49" fill="#555"/><polygon points="253.45,238.46 253.7,237.5 254.3,237.5 254.55,238.46" fill="#555"/><path d="M18.3 239.2L272.9 238.4" stroke="#444" stroke-width="0.85"/><path d="M17.8 132.1H273.4V242.9" stroke="#9fb9e6" stroke-width="1.2" fill="none"/><path d="M17.8 242.9H273.4" stroke="#b3c8ee" stroke-width="0.9" fill="none"/><path d="M18.7 132.1V242.9" stroke="#bccfee" stroke-width="1.0" fill="none"/><path d="M17.7 132.1V243.4" stroke="#8797b6" stroke-width="1.1" fill="none"/><text x="15.7" y="141.8" font-size="2.7" text-anchor="end" fill="#333">8.5</text><text x="15.7" y="147.6" font-size="2.7" text-anchor="end" fill="#333">8</text><text x="15.7" y="153.4" font-size="2.7" text-anchor="end" fill="#333">7.5</text><text x="15.7" y="159.2" font-size="2.7" text-anchor="end" fill="#333">7</text><text x="15.7" y="165" font-size="2.7" text-anchor="end" fill="#333">6.5</text><text x="15.7" y="170.8" font-size="2.7" text-anchor="end" fill="#333">6</text><text x="15.7" y="176.6" font-size="2.7" text-anchor="end" fill="#333">5.5</text><text x="15.7" y="182.4" font-size="2.7" text-anchor="end" fill="#333">5</text><text x="15.7" y="188.2" font-size="2.7" text-anchor="end" fill="#333">4.5</text><text x="15.7" y="194" font-size="2.7" text-anchor="end" fill="#333">4</text><text x="15.7" y="199.8" font-size="2.7" text-anchor="end" fill="#333">3.5</text><text x="15.7" y="205.6" font-size="2.7" text-anchor="end" fill="#333">3</text><text x="15.7" y="211.4" font-size="2.7" text-anchor="end" fill="#333">2.5</text><text x="15.7" y="217.2" font-size="2.7" text-anchor="end" fill="#333">2</text><text x="15.7" y="223" font-size="2.7" text-anchor="end" fill="#333">1.5</text><text x="15.7" y="228.8" font-size="2.7" text-anchor="end" fill="#333">1</text><text x="15.7" y="234.6" font-size="2.7" text-anchor="end" fill="#333">0.5</text><text x="15.7" y="240.4" font-size="2.7" text-anchor="end" fill="#333">0</text><text x="23" y="246.9" font-size="2.7" font-weight="bold" text-anchor="middle" fill="#444">3</text><text x="33.06" y="246.9" font-size="2.7" font-weight="bold" text-anchor="middle" fill="#444">4</text><text x="43.12" y="246.9" font-size="2.7" font-weight="bold" text-anchor="middle" fill="#444">5</text><text x="53.18" y="246.9" font-size="2.7" font-weight="bold" text-anchor="middle" fill="#444">6</text><text x="63.24" y="246.9" font-size="2.7" font-weight="bold" text-anchor="middle" fill="#444">7</text><text x="73.3" y="246.9" font-size="2.7" font-weight="bold" text-anchor="middle" fill="#444">8</text><text x="83.36" y="246.9" font-size="2.7" font-weight="bold" text-anchor="middle" fill="#444">9</text><text x="93.42" y="246.9" font-size="2.7" font-weight="bold" text-anchor="middle" fill="#444">10</text><text x="103.48" y="246.9" font-size="2.7" font-weight="bold" text-anchor="middle" fill="#444">11</text><text x="113.54" y="246.9" font-size="2.7" font-weight="bold" text-anchor="middle" fill="#444">12</text><text x="123.6" y="246.9" font-size="2.7" font-weight="bold" text-anchor="middle" fill="#444">13</text><text x="133.66" y="246.9" font-size="2.7" font-weight="bold" text-anchor="middle" fill="#444">14</text><text x="143.72" y="246.9" font-size="2.7" font-weight="bold" text-anchor="middle" fill="#444">15</text><text x="153.78" y="246.9" font-size="2.7" font-weight="bold" text-anchor="middle" fill="#444">16</text><text x="163.84" y="246.9" font-size="2.7" font-weight="bold" text-anchor="middle" fill="#444">17</text><text x="173.9" y="246.9" font-size="2.7" font-weight="bold" text-anchor="middle" fill="#444">18</text><text x="183.96" y="246.9" font-size="2.7" font-weight="bold" text-anchor="middle" fill="#444">19</text><text x="194.02" y="246.9" font-size="2.7" font-weight="bold" text-anchor="middle" fill="#444">20</text><text x="204.08" y="246.9" font-size="2.7" font-weight="bold" text-anchor="middle" fill="#444">21</text><text x="214.14" y="246.9" font-size="2.7" font-weight="bold" text-anchor="middle" fill="#444">22</text><text x="224.2" y="246.9" font-size="2.7" font-weight="bold" text-anchor="middle" fill="#444">23</text><text x="234.26" y="246.9" font-size="2.7" font-weight="bold" text-anchor="middle" fill="#444">24</text><text x="244.32" y="246.9" font-size="2.7" font-weight="bold" text-anchor="middle" fill="#444">25</text><text x="254.38" y="246.9" font-size="2.7" font-weight="bold" text-anchor="middle" fill="#444">26</text><text x="264.44" y="246.9" font-size="2.7" font-weight="bold" text-anchor="middle" fill="#444">27</text><path d="M16 140.9H17.8M16 146.7H17.8M16 152.5H17.8M16 158.3H17.8M16 164.1H17.8M16 169.9H17.8M16 175.7H17.8M16 181.5H17.8M16 187.3H17.8M16 193.1H17.8M16 198.9H17.8M16 204.7H17.8M16 210.5H17.8M16 216.3H17.8M16 222.1H17.8M16 227.9H17.8M16 233.7H17.8M16 239.5H17.8M23 242.9V244M33.06 242.9V244M43.12 242.9V244M53.18 242.9V244M63.24 242.9V244M73.3 242.9V244M83.36 242.9V244M93.42 242.9V244M103.48 242.9V244M113.54 242.9V244M123.6 242.9V244M133.66 242.9V244M143.72 242.9V244M153.78 242.9V244M163.84 242.9V244M173.9 242.9V244M183.96 242.9V244M194.02 242.9V244M204.08 242.9V244M214.14 242.9V244M224.2 242.9V244M234.26 242.9V244M244.32 242.9V244M254.38 242.9V244M264.44 242.9V244" stroke="#555" stroke-width="0.6"/><text x="16.4" y="136.7" font-size="2.9" text-anchor="end" fill="#333">x10<tspan font-size="2.0" dy="-1.1">4</tspan></text><text x="19.1" y="136.4" font-size="2.7" fill="#666" textLength="36" lengthAdjust="spacingAndGlyphs">+ BPC Scan FL-RH-13-01-17-D</text><text x="125.6" y="250.7" font-size="3.1" fill="#333" textLength="40" lengthAdjust="spacingAndGlyphs">Counts vs. Acquisition Time (min)</text><text x="121.6" y="255.2" font-size="2.8" fill="#eeeeee" textLength="47" lengthAdjust="spacingAndGlyphs">Counts vs. Acquisition Time (min) Counts</text><text transform="translate(217.75 153) scale(1.071 1)" font-size="10.6" font-weight="bold" fill="#000">Day 11</text><text transform="translate(44.49 226.51) scale(0.77 1)" font-size="9.9" font-weight="bold" fill="#f00">C</text><text x="49.88" y="227.6" font-size="7" font-weight="bold" fill="#f00">8</text><text transform="translate(107.29 157.21) scale(0.77 1)" font-size="9.9" font-weight="bold" fill="#f00">C</text><text x="112.55" y="158.3" font-size="7" font-weight="bold" fill="#f00">12</text><text transform="translate(139.64 167.01) scale(0.77 1)" font-size="9.9" font-weight="bold" fill="#f00">C</text><text x="144.9" y="168.1" font-size="7" font-weight="bold" fill="#f00">15</text><text transform="translate(212.19 216.81) scale(0.77 1)" font-size="9.9" font-weight="bold" fill="#f00">C</text><text x="217.45" y="217.9" font-size="7" font-weight="bold" fill="#f00">27</text><path d="M293.3 132.8V243.3M305.02 132.8V243.3M316.74 132.8V243.3M328.46 132.8V243.3M340.18 132.8V243.3M351.9 132.8V243.3M363.62 132.8V243.3M375.34 132.8V243.3M387.06 132.8V243.3M398.78 132.8V243.3M410.5 132.8V243.3M422.22 132.8V243.3M433.94 132.8V243.3M445.66 132.8V243.3M457.38 132.8V243.3M469.1 132.8V243.3M480.82 132.8V243.3M492.54 132.8V243.3M504.26 132.8V243.3M515.98 132.8V243.3M527.7 132.8V243.3M539.42 132.8V243.3M287.9 140.4H545.6M287.9 144.24H545.6M287.9 148.08H545.6M287.9 151.92H545.6M287.9 155.76H545.6M287.9 159.6H545.6M287.9 163.44H545.6M287.9 167.28H545.6M287.9 171.12H545.6M287.9 174.96H545.6M287.9 178.8H545.6M287.9 182.64H545.6M287.9 186.48H545.6M287.9 190.32H545.6M287.9 194.16H545.6M287.9 198H545.6M287.9 201.84H545.6M287.9 205.68H545.6M287.9 209.52H545.6M287.9 213.36H545.6M287.9 217.2H545.6M287.9 221.04H545.6M287.9 224.88H545.6M287.9 228.72H545.6M287.9 232.56H545.6M287.9 236.4H545.6M287.9 240.24H545.6" stroke="#e9eaec" stroke-width="0.6" fill="none"/><polygon points="346.61,239.16 346.88,233.7 347.33,233.7 347.61,239.16" fill="#4e4e4e"/><polygon points="348.1,239.16 348.38,234.36 348.83,234.36 349.1,239.16" fill="#4e4e4e"/><polygon points="349.6,239.16 349.87,234.79 350.32,234.79 350.6,239.16" fill="#4e4e4e"/><polygon points="347.1,239.16 347.6,237.32 348.1,237.32 348.6,239.16" fill="#111" fill-opacity="0.95"/><polygon points="348.35,239.16 348.8,237.6 349.3,237.6 349.75,239.16" fill="#111" fill-opacity="0.92"/><polygon points="346.5,239.16 348,237.53 350.7,239.16" fill="#222" fill-opacity="0.35"/><polygon points="356.82,239.13 357.09,233.1 357.55,233.1 357.82,239.13" fill="#4e4e4e"/><polygon points="358.2,239.13 358.47,233.82 358.93,233.82 359.2,239.13" fill="#4e4e4e"/><polygon points="359.58,239.13 359.85,234.31 360.31,234.31 360.58,239.13" fill="#4e4e4e"/><polygon points="357.26,239.13 357.76,236.76 358.26,236.76 358.76,239.13" fill="#111" fill-opacity="0.95"/><polygon points="358.41,239.13 358.86,237.12 359.36,237.12 359.81,239.13" fill="#111" fill-opacity="0.92"/><polygon points="356.72,239.13 358.15,237.32 360.68,239.13" fill="#222" fill-opacity="0.35"/><polygon points="370.31,239.07 370.58,231.8 371.03,231.8 371.31,239.07" fill="#4e4e4e"/><polygon points="371.8,239.07 372.07,232.67 372.53,232.67 372.8,239.07" fill="#4e4e4e"/><polygon points="373.3,239.07 373.57,233.25 374.02,233.25 374.3,239.07" fill="#4e4e4e"/><polygon points="370.8,239.07 371.3,235.33 371.8,235.33 372.3,239.07" fill="#111" fill-opacity="0.95"/><polygon points="372.05,239.07 372.5,235.91 373,235.91 373.45,239.07" fill="#111" fill-opacity="0.92"/><polygon points="370.2,239.07 371.7,236.89 374.4,239.07" fill="#222" fill-opacity="0.35"/><polygon points="381.61,239.03 381.88,230.6 382.33,230.6 382.61,239.03" fill="#4e4e4e"/><polygon points="382.6,239.03 382.88,231.61 383.33,231.61 383.6,239.03" fill="#4e4e4e"/><polygon points="383.6,239.03 383.87,232.29 384.32,232.29 384.6,239.03" fill="#4e4e4e"/><polygon points="384.6,239.03 384.87,233.97 385.32,233.97 385.6,239.03" fill="#4e4e4e"/><polygon points="382.1,239.03 382.6,233.75 383.1,233.75 383.6,239.03" fill="#111" fill-opacity="0.95"/><polygon points="383.35,239.03 383.8,234.56 384.3,234.56 384.75,239.03" fill="#111" fill-opacity="0.92"/><polygon points="381.5,239.03 383,236.5 385.7,239.03" fill="#222" fill-opacity="0.35"/><polygon points="393.31,238.98 393.58,230.6 394.03,230.6 394.31,238.98" fill="#4e4e4e"/><polygon points="394.3,238.98 394.58,231.61 395.03,231.61 395.3,238.98" fill="#4e4e4e"/><polygon points="395.3,238.98 395.57,232.28 396.02,232.28 396.3,238.98" fill="#4e4e4e"/><polygon points="396.3,238.98 396.57,233.95 397.02,233.95 397.3,238.98" fill="#4e4e4e"/><polygon points="393.8,238.98 394.3,233.77 394.8,233.77 395.3,238.98" fill="#111" fill-opacity="0.95"/><polygon points="395.05,238.98 395.5,234.57 396,234.57 396.45,238.98" fill="#111" fill-opacity="0.92"/><polygon points="393.2,238.98 394.7,236.47 397.4,238.98" fill="#222" fill-opacity="0.35"/><polygon points="403.7,238.94 403.98,231.5 404.43,231.5 404.7,238.94" fill="#4e4e4e"/><polygon points="405.2,238.94 405.47,232.39 405.93,232.39 406.2,238.94" fill="#4e4e4e"/><polygon points="406.69,238.94 406.97,232.99 407.42,232.99 407.69,238.94" fill="#4e4e4e"/><polygon points="404.2,238.94 404.7,234.99 405.2,234.99 405.7,238.94" fill="#111" fill-opacity="0.95"/><polygon points="405.45,238.94 405.9,235.6 406.4,235.6 406.85,238.94" fill="#111" fill-opacity="0.92"/><polygon points="403.6,238.94 405.1,236.71 407.8,238.94" fill="#222" fill-opacity="0.35"/><polygon points="413.12,238.91 413.39,232 413.85,232 414.12,238.91" fill="#4e4e4e"/><polygon points="414.5,238.91 414.77,232.83 415.23,232.83 415.5,238.91" fill="#4e4e4e"/><polygon points="415.88,238.91 416.15,233.38 416.61,233.38 416.88,238.91" fill="#4e4e4e"/><polygon points="413.56,238.91 414.06,235.6 414.56,235.6 415.06,238.91" fill="#111" fill-opacity="0.95"/><polygon points="414.71,238.91 415.16,236.11 415.66,236.11 416.11,238.91" fill="#111" fill-opacity="0.92"/><polygon points="413.02,238.91 414.45,236.83 416.98,238.91" fill="#222" fill-opacity="0.35"/><polygon points="422.12,238.87 422.39,232.5 422.85,232.5 423.12,238.87" fill="#4e4e4e"/><polygon points="423.5,238.87 423.77,233.26 424.23,233.26 424.5,238.87" fill="#4e4e4e"/><polygon points="424.88,238.87 425.15,233.77 425.61,233.77 425.88,238.87" fill="#4e4e4e"/><polygon points="422.56,238.87 423.06,236.16 423.56,236.16 424.06,238.87" fill="#111" fill-opacity="0.95"/><polygon points="423.71,238.87 424.16,236.57 424.66,236.57 425.11,238.87" fill="#111" fill-opacity="0.92"/><polygon points="422.02,238.87 423.45,236.96 425.98,238.87" fill="#222" fill-opacity="0.35"/><polygon points="431.12,238.84 431.39,233 431.85,233 432.12,238.84" fill="#4e4e4e"/><polygon points="432.5,238.84 432.77,233.7 433.23,233.7 433.5,238.84" fill="#4e4e4e"/><polygon points="433.88,238.84 434.15,234.17 434.61,234.17 434.88,238.84" fill="#4e4e4e"/><polygon points="431.56,238.84 432.06,236.65 432.56,236.65 433.06,238.84" fill="#111" fill-opacity="0.95"/><polygon points="432.71,238.84 433.16,236.99 433.66,236.99 434.11,238.84" fill="#111" fill-opacity="0.92"/><polygon points="431.02,238.84 432.45,237.09 434.98,238.84" fill="#222" fill-opacity="0.35"/><polygon points="439.24,238.81 439.51,233.5 439.96,233.5 440.24,238.81" fill="#4e4e4e"/><polygon points="440.5,238.81 440.77,234.14 441.23,234.14 441.5,238.81" fill="#4e4e4e"/><polygon points="441.76,238.81 442.04,234.56 442.49,234.56 442.76,238.81" fill="#4e4e4e"/><polygon points="439.62,238.81 440.12,237.1 440.62,237.1 441.12,238.81" fill="#111" fill-opacity="0.95"/><polygon points="440.68,238.81 441.13,237.36 441.63,237.36 442.08,238.81" fill="#111" fill-opacity="0.92"/><polygon points="439.13,238.81 440.49,237.21 442.87,238.81" fill="#222" fill-opacity="0.35"/><polygon points="447.24,238.77 447.51,234 447.96,234 448.24,238.77" fill="#4e4e4e"/><polygon points="448.5,238.77 448.77,234.57 449.23,234.57 449.5,238.77" fill="#4e4e4e"/><polygon points="449.76,238.77 450.04,234.95 450.49,234.95 450.76,238.77" fill="#4e4e4e"/><polygon points="447.62,238.77 448.12,237.47 448.62,237.47 449.12,238.77" fill="#111" fill-opacity="0.95"/><polygon points="448.68,238.77 449.13,237.67 449.63,237.67 450.08,238.77" fill="#111" fill-opacity="0.92"/><polygon points="447.13,238.77 448.49,237.34 450.87,238.77" fill="#222" fill-opacity="0.35"/><polygon points="454.85,238.75 455.12,234.5 455.58,234.5 455.85,238.75" fill="#4e4e4e"/><polygon points="456,238.75 456.27,235.01 456.73,235.01 457,238.75" fill="#4e4e4e"/><polygon points="457.15,238.75 457.43,235.35 457.88,235.35 458.15,238.75" fill="#4e4e4e"/><polygon points="455.18,238.75 455.68,237.59 456.18,237.59 456.68,238.75" fill="#111" fill-opacity="0.95"/><polygon points="456.15,238.75 456.6,237.76 457.1,237.76 457.55,238.75" fill="#111" fill-opacity="0.92"/><polygon points="454.75,238.75 456.04,237.47 458.25,238.75" fill="#222" fill-opacity="0.35"/><polygon points="462.35,238.72 462.62,235 463.08,235 463.35,238.72" fill="#4e4e4e"/><polygon points="463.5,238.72 463.77,235.45 464.23,235.45 464.5,238.72" fill="#4e4e4e"/><polygon points="464.65,238.72 464.93,235.74 465.38,235.74 465.65,238.72" fill="#4e4e4e"/><polygon points="462.68,238.72 463.18,237.7 463.68,237.7 464.18,238.72" fill="#111" fill-opacity="0.95"/><polygon points="463.65,238.72 464.1,237.86 464.6,237.86 465.05,238.72" fill="#111" fill-opacity="0.92"/><polygon points="462.25,238.72 463.54,237.6 465.75,238.72" fill="#222" fill-opacity="0.35"/><polygon points="468.96,238.69 469.24,235.5 469.69,235.5 469.96,238.69" fill="#4e4e4e"/><polygon points="470,238.69 470.27,235.88 470.73,235.88 471,238.69" fill="#4e4e4e"/><polygon points="471.03,238.69 471.31,236.14 471.76,236.14 472.03,238.69" fill="#4e4e4e"/><polygon points="469.23,238.69 469.73,237.82 470.23,237.82 470.73,238.69" fill="#111" fill-opacity="0.95"/><polygon points="470.11,238.69 470.56,237.95 471.06,237.95 471.51,238.69" fill="#111" fill-opacity="0.92"/><polygon points="468.86,238.69 470.09,237.73 472.13,238.69" fill="#222" fill-opacity="0.35"/><polygon points="475.46,238.67 475.74,236 476.19,236 476.46,238.67" fill="#4e4e4e"/><polygon points="476.5,238.67 476.77,236.32 477.23,236.32 477.5,238.67" fill="#4e4e4e"/><polygon points="477.53,238.67 477.81,236.53 478.26,236.53 478.53,238.67" fill="#4e4e4e"/><polygon points="475.73,238.67 476.23,237.94 476.73,237.94 477.23,238.67" fill="#111" fill-opacity="0.95"/><polygon points="476.61,238.67 477.06,238.05 477.56,238.05 478.01,238.67" fill="#111" fill-opacity="0.92"/><polygon points="475.36,238.67 476.59,237.87 478.63,238.67" fill="#222" fill-opacity="0.35"/><polygon points="481.88,238.64 482.15,236.5 482.61,236.5 482.88,238.64" fill="#4e4e4e"/><polygon points="482.8,238.64 483.07,236.76 483.53,236.76 483.8,238.64" fill="#4e4e4e"/><polygon points="483.72,238.64 483.99,236.93 484.44,236.93 484.72,238.64" fill="#4e4e4e"/><polygon points="482.09,238.64 482.59,238.06 483.09,238.06 483.59,238.64" fill="#111" fill-opacity="0.95"/><polygon points="482.88,238.64 483.33,238.15 483.83,238.15 484.28,238.64" fill="#111" fill-opacity="0.92"/><polygon points="481.78,238.64 482.93,238 484.82,238.64" fill="#222" fill-opacity="0.35"/><polygon points="487.88,238.62 488.15,237 488.61,237 488.88,238.62" fill="#4e4e4e"/><polygon points="488.8,238.62 489.07,237.19 489.53,237.19 489.8,238.62" fill="#4e4e4e"/><polygon points="489.72,238.62 489.99,237.32 490.44,237.32 490.72,238.62" fill="#4e4e4e"/><polygon points="488.09,238.62 488.59,238.18 489.09,238.18 489.59,238.62" fill="#111" fill-opacity="0.95"/><polygon points="488.88,238.62 489.33,238.24 489.83,238.24 490.28,238.62" fill="#111" fill-opacity="0.92"/><polygon points="487.78,238.62 488.93,238.13 490.82,238.62" fill="#222" fill-opacity="0.35"/><polygon points="299.55,239.35 299.8,237.6 300.4,237.6 300.65,239.35" fill="#555"/><polygon points="302.75,239.34 303,232.2 303.6,232.2 303.85,239.34" fill="#555"/><polygon points="306.05,239.33 306.3,238 306.9,238 307.15,239.33" fill="#555"/><polygon points="307.95,239.32 308.2,238 308.8,238 309.05,239.32" fill="#555"/><polygon points="320.45,239.27 320.7,237.4 321.3,237.4 321.55,239.27" fill="#555"/><polygon points="322.75,239.26 323,237.4 323.6,237.4 323.85,239.26" fill="#555"/><polygon points="327.35,239.24 329.2,234 330,234 331.85,239.24" fill="#aaa"/><polygon points="326.95,239.25 327.2,235 327.8,235 328.05,239.25" fill="#555"/><polygon points="328.1,239.24 329.2,236.21 330.6,236.21 331.7,239.24" fill="#c4c4c4"/><polygon points="329.32,239.24 329.5,209 330.3,209 330.47,239.24" fill="url(#pg)"/><polygon points="329.15,239.24 329.45,235.61 330.35,235.61 330.65,239.24" fill="#3a3a3a" fill-opacity="0.5"/><polygon points="330.65,239.23 330.9,234.5 331.5,234.5 331.75,239.23" fill="#555"/><polygon points="340.95,239.19 341.2,235 341.8,235 342.05,239.19" fill="#555"/><polygon points="342.95,239.18 343.2,235 343.8,235 344.05,239.18" fill="#555"/><polygon points="347.3,239.16 348.4,232.95 349.8,232.95 350.9,239.16" fill="#c4c4c4"/><polygon points="348.53,239.16 348.7,177 349.5,177 349.68,239.16" fill="url(#pg)"/><polygon points="348.3,239.16 348.65,215.54 349.55,215.54 349.9,239.16" fill="#333" fill-opacity="0.75"/><polygon points="362.5,239.1 363.6,231.1 365,231.1 366.1,239.1" fill="#c4c4c4"/><polygon points="363.73,239.1 363.9,157.5 364.7,157.5 364.88,239.1" fill="url(#pg)"/><polygon points="363.5,239.1 363.85,208.09 364.75,208.09 365.1,239.1" fill="#333" fill-opacity="0.75"/><polygon points="375.2,239.05 376.3,231.05 377.7,231.05 378.8,239.05" fill="#c4c4c4"/><polygon points="376.43,239.05 376.6,153.7 377.4,153.7 377.57,239.05" fill="url(#pg)"/><polygon points="376.2,239.05 376.55,206.62 377.45,206.62 377.8,239.05" fill="#333" fill-opacity="0.75"/><polygon points="387.2,239.01 388.3,231.01 389.7,231.01 390.8,239.01" fill="#c4c4c4"/><polygon points="388.43,239.01 388.6,154.4 389.4,154.4 389.57,239.01" fill="url(#pg)"/><polygon points="388.2,239.01 388.55,206.86 389.45,206.86 389.8,239.01" fill="#333" fill-opacity="0.75"/><polygon points="397.7,238.97 398.8,231.1 400.2,231.1 401.3,238.97" fill="#c4c4c4"/><polygon points="398.93,238.97 399.1,160.3 399.9,160.3 400.07,238.97" fill="url(#pg)"/><polygon points="398.7,238.97 399.05,209.07 399.95,209.07 400.3,238.97" fill="#333" fill-opacity="0.75"/><polygon points="408.2,238.93 409.3,231.62 410.7,231.62 411.8,238.93" fill="#c4c4c4"/><polygon points="409.43,238.93 409.6,165.9 410.4,165.9 410.57,238.93" fill="url(#pg)"/><polygon points="409.25,238.93 409.55,232.93 410.45,232.93 410.75,238.93" fill="#3a3a3a" fill-opacity="0.5"/><polygon points="416.9,238.89 418,231.99 419.4,231.99 420.5,238.89" fill="#c4c4c4"/><polygon points="418.12,238.89 418.3,169.9 419.1,169.9 419.27,238.89" fill="url(#pg)"/><polygon points="417.95,238.89 418.25,232.89 419.15,232.89 419.45,238.89" fill="#3a3a3a" fill-opacity="0.5"/><polygon points="426.4,238.86 427.5,232.69 428.9,232.69 430,238.86" fill="#c4c4c4"/><polygon points="427.62,238.86 427.8,177.2 428.6,177.2 428.77,238.86" fill="url(#pg)"/><polygon points="427.45,238.86 427.75,232.86 428.65,232.86 428.95,238.86" fill="#3a3a3a" fill-opacity="0.5"/><polygon points="436.12,238.82 436.3,181.7 437.1,181.7 437.27,238.82" fill="url(#pg)"/><polygon points="435.95,238.82 436.25,232.82 437.15,232.82 437.45,238.82" fill="#3a3a3a" fill-opacity="0.5"/><polygon points="444.03,238.79 444.2,188 445,188 445.18,238.79" fill="url(#pg)"/><polygon points="443.85,238.79 444.15,232.79 445.05,232.79 445.35,238.79" fill="#3a3a3a" fill-opacity="0.5"/><polygon points="451.93,238.76 452.1,192.9 452.9,192.9 453.07,238.76" fill="url(#pg)"/><polygon points="451.75,238.76 452.05,233.26 452.95,233.26 453.25,238.76" fill="#3a3a3a" fill-opacity="0.5"/><polygon points="459.32,238.73 459.5,199.5 460.3,199.5 460.47,238.73" fill="url(#pg)"/><polygon points="459.15,238.73 459.45,234.02 460.35,234.02 460.65,238.73" fill="#3a3a3a" fill-opacity="0.5"/><polygon points="466.43,238.71 466.6,202.2 467.4,202.2 467.57,238.71" fill="url(#pg)"/><polygon points="466.25,238.71 466.55,234.32 467.45,234.32 467.75,238.71" fill="#3a3a3a" fill-opacity="0.5"/><polygon points="473.03,238.68 473.2,208 474,208 474.18,238.68" fill="url(#pg)"/><polygon points="472.85,238.68 473.15,235 474.05,235 474.35,238.68" fill="#3a3a3a" fill-opacity="0.5"/><polygon points="479.62,238.65 479.8,212.7 480.6,212.7 480.77,238.65" fill="url(#pg)"/><polygon points="479.45,238.65 479.75,235.54 480.65,235.54 480.95,238.65" fill="#3a3a3a" fill-opacity="0.5"/><polygon points="485.75,238.63 486,216.7 486.6,216.7 486.85,238.63" fill="#555"/><polygon points="491.45,238.61 491.7,220.6 492.3,220.6 492.55,238.61" fill="#555"/><polygon points="497.55,238.58 497.8,222.7 498.4,222.7 498.65,238.58" fill="#555"/><polygon points="503.95,238.56 504.2,226.7 504.8,226.7 505.05,238.56" fill="#555"/><polygon points="510.45,238.53 510.7,228.5 511.3,228.5 511.55,238.53" fill="#555"/><polygon points="518.45,238.5 518.7,232 519.3,232 519.55,238.5" fill="#555"/><polygon points="527.05,238.47 527.3,234.5 527.9,234.5 528.15,238.47" fill="#555"/><polygon points="537.75,238.43 538,236.8 538.6,236.8 538.85,238.43" fill="#555"/><path d="M288.4 239.4L545.1 238.4" stroke="#444" stroke-width="0.85"/><path d="M287.9 132.8H545.6V243.3" stroke="#9fb9e6" stroke-width="1.2" fill="none"/><path d="M287.9 243.3H545.6" stroke="#b3c8ee" stroke-width="0.9" fill="none"/><path d="M288.8 132.8V243.3" stroke="#bccfee" stroke-width="1.0" fill="none"/><path d="M287.8 132.8V243.8" stroke="#8797b6" stroke-width="1.1" fill="none"/><text x="285.8" y="141.3" font-size="2.7" text-anchor="end" fill="#333">6.5</text><text x="285.8" y="145.14" font-size="2.7" text-anchor="end" fill="#333">6.25</text><text x="285.8" y="148.98" font-size="2.7" text-anchor="end" fill="#333">6</text><text x="285.8" y="152.82" font-size="2.7" text-anchor="end" fill="#333">5.75</text><text x="285.8" y="156.66" font-size="2.7" text-anchor="end" fill="#333">5.5</text><text x="285.8" y="160.5" font-size="2.7" text-anchor="end" fill="#333">5.25</text><text x="285.8" y="164.34" font-size="2.7" text-anchor="end" fill="#333">5</text><text x="285.8" y="168.18" font-size="2.7" text-anchor="end" fill="#333">4.75</text><text x="285.8" y="172.02" font-size="2.7" text-anchor="end" fill="#333">4.5</text><text x="285.8" y="175.86" font-size="2.7" text-anchor="end" fill="#333">4.25</text><text x="285.8" y="179.7" font-size="2.7" text-anchor="end" fill="#333">4</text><text x="285.8" y="183.54" font-size="2.7" text-anchor="end" fill="#333">3.75</text><text x="285.8" y="187.38" font-size="2.7" text-anchor="end" fill="#333">3.5</text><text x="285.8" y="191.22" font-size="2.7" text-anchor="end" fill="#333">3.25</text><text x="285.8" y="195.06" font-size="2.7" text-anchor="end" fill="#333">3</text><text x="285.8" y="198.9" font-size="2.7" text-anchor="end" fill="#333">2.75</text><text x="285.8" y="202.74" font-size="2.7" text-anchor="end" fill="#333">2.5</text><text x="285.8" y="206.58" font-size="2.7" text-anchor="end" fill="#333">2.25</text><text x="285.8" y="210.42" font-size="2.7" text-anchor="end" fill="#333">2</text><text x="285.8" y="214.26" font-size="2.7" text-anchor="end" fill="#333">1.75</text><text x="285.8" y="218.1" font-size="2.7" text-anchor="end" fill="#333">1.5</text><text x="285.8" y="221.94" font-size="2.7" text-anchor="end" fill="#333">1.25</text><text x="285.8" y="225.78" font-size="2.7" text-anchor="end" fill="#333">1</text><text x="285.8" y="229.62" font-size="2.7" text-anchor="end" fill="#333">0.75</text><text x="285.8" y="233.46" font-size="2.7" text-anchor="end" fill="#333">0.5</text><text x="285.8" y="237.3" font-size="2.7" text-anchor="end" fill="#333">0.25</text><text x="285.8" y="241.14" font-size="2.7" text-anchor="end" fill="#333">0</text><text x="293.3" y="247.3" font-size="2.7" font-weight="bold" text-anchor="middle" fill="#444">5</text><text x="305.02" y="247.3" font-size="2.7" font-weight="bold" text-anchor="middle" fill="#444">6</text><text x="316.74" y="247.3" font-size="2.7" font-weight="bold" text-anchor="middle" fill="#444">7</text><text x="328.46" y="247.3" font-size="2.7" font-weight="bold" text-anchor="middle" fill="#444">8</text><text x="340.18" y="247.3" font-size="2.7" font-weight="bold" text-anchor="middle" fill="#444">9</text><text x="351.9" y="247.3" font-size="2.7" font-weight="bold" text-anchor="middle" fill="#444">10</text><text x="363.62" y="247.3" font-size="2.7" font-weight="bold" text-anchor="middle" fill="#444">11</text><text x="375.34" y="247.3" font-size="2.7" font-weight="bold" text-anchor="middle" fill="#444">12</text><text x="387.06" y="247.3" font-size="2.7" font-weight="bold" text-anchor="middle" fill="#444">13</text><text x="398.78" y="247.3" font-size="2.7" font-weight="bold" text-anchor="middle" fill="#444">14</text><text x="410.5" y="247.3" font-size="2.7" font-weight="bold" text-anchor="middle" fill="#444">15</text><text x="422.22" y="247.3" font-size="2.7" font-weight="bold" text-anchor="middle" fill="#444">16</text><text x="433.94" y="247.3" font-size="2.7" font-weight="bold" text-anchor="middle" fill="#444">17</text><text x="445.66" y="247.3" font-size="2.7" font-weight="bold" text-anchor="middle" fill="#444">18</text><text x="457.38" y="247.3" font-size="2.7" font-weight="bold" text-anchor="middle" fill="#444">19</text><text x="469.1" y="247.3" font-size="2.7" font-weight="bold" text-anchor="middle" fill="#444">20</text><text x="480.82" y="247.3" font-size="2.7" font-weight="bold" text-anchor="middle" fill="#444">21</text><text x="492.54" y="247.3" font-size="2.7" font-weight="bold" text-anchor="middle" fill="#444">22</text><text x="504.26" y="247.3" font-size="2.7" font-weight="bold" text-anchor="middle" fill="#444">23</text><text x="515.98" y="247.3" font-size="2.7" font-weight="bold" text-anchor="middle" fill="#444">24</text><text x="527.7" y="247.3" font-size="2.7" font-weight="bold" text-anchor="middle" fill="#444">25</text><text x="539.42" y="247.3" font-size="2.7" font-weight="bold" text-anchor="middle" fill="#444">26</text><path d="M286.1 140.4H287.9M286.1 144.24H287.9M286.1 148.08H287.9M286.1 151.92H287.9M286.1 155.76H287.9M286.1 159.6H287.9M286.1 163.44H287.9M286.1 167.28H287.9M286.1 171.12H287.9M286.1 174.96H287.9M286.1 178.8H287.9M286.1 182.64H287.9M286.1 186.48H287.9M286.1 190.32H287.9M286.1 194.16H287.9M286.1 198H287.9M286.1 201.84H287.9M286.1 205.68H287.9M286.1 209.52H287.9M286.1 213.36H287.9M286.1 217.2H287.9M286.1 221.04H287.9M286.1 224.88H287.9M286.1 228.72H287.9M286.1 232.56H287.9M286.1 236.4H287.9M286.1 240.24H287.9M293.3 243.3V244.4M305.02 243.3V244.4M316.74 243.3V244.4M328.46 243.3V244.4M340.18 243.3V244.4M351.9 243.3V244.4M363.62 243.3V244.4M375.34 243.3V244.4M387.06 243.3V244.4M398.78 243.3V244.4M410.5 243.3V244.4M422.22 243.3V244.4M433.94 243.3V244.4M445.66 243.3V244.4M457.38 243.3V244.4M469.1 243.3V244.4M480.82 243.3V244.4M492.54 243.3V244.4M504.26 243.3V244.4M515.98 243.3V244.4M527.7 243.3V244.4M539.42 243.3V244.4" stroke="#555" stroke-width="0.6"/><text x="286.5" y="137.4" font-size="2.9" text-anchor="end" fill="#333">x10<tspan font-size="2.0" dy="-1.1">4</tspan></text><text x="289.2" y="137.1" font-size="2.7" fill="#666" textLength="36" lengthAdjust="spacingAndGlyphs">+ BPC Scan FL-RH-13-01-22-D</text><text x="396.75" y="251.6" font-size="3.1" fill="#333" textLength="40" lengthAdjust="spacingAndGlyphs">Counts vs. Acquisition Time (min)</text><text x="392.75" y="256.1" font-size="2.8" fill="#eeeeee" textLength="47" lengthAdjust="spacingAndGlyphs">Counts vs. Acquisition Time (min) Counts</text><text transform="translate(487.15 151.6) scale(1.067 1)" font-size="10.6" font-weight="bold" fill="#000">Day 16</text><text transform="translate(297.69 227.01) scale(0.77 1)" font-size="9.9" font-weight="bold" fill="#f00">C</text><text x="303.08" y="228.1" font-size="7" font-weight="bold" fill="#f00">8</text><text transform="translate(368.89 150.41) scale(0.77 1)" font-size="9.9" font-weight="bold" fill="#f00">C</text><text x="374.15" y="151.5" font-size="7" font-weight="bold" fill="#f00">12</text><text transform="translate(402.19 164.01) scale(0.77 1)" font-size="9.9" font-weight="bold" fill="#f00">C</text><text x="407.45" y="165.1" font-size="7" font-weight="bold" fill="#f00">15</text><text transform="translate(489.79 219.31) scale(0.77 1)" font-size="9.9" font-weight="bold" fill="#f00">C</text><text x="495.05" y="220.4" font-size="7" font-weight="bold" fill="#f00">27</text></svg>
</body></html>
